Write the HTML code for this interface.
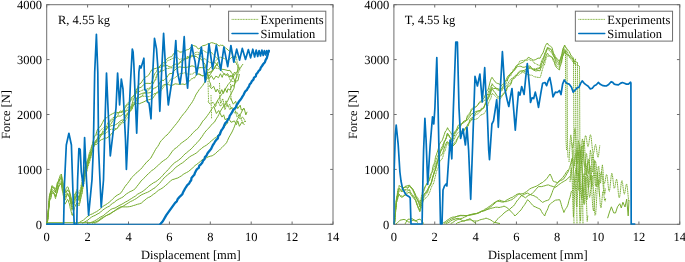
<!DOCTYPE html>
<html><head><meta charset="utf-8"><style>
html,body{margin:0;padding:0;background:#fff;}
svg{display:block;}
text{font-family:"Liberation Serif", serif;font-size:12.50px;fill:#000;text-rendering:geometricPrecision;}
svg{will-change:transform;}
</style></head><body>
<svg width="685" height="262" viewBox="0 0 685 262">
<clipPath id="cL"><rect x="46.20" y="4.20" width="287.30" height="220.60"/></clipPath><g stroke="#6e6e6e" stroke-width="1" fill="none"><path d="M46.70 224.30 V221.50 M46.70 4.70 V7.50" /><path d="M87.60 224.30 V221.50 M87.60 4.70 V7.50" /><path d="M128.50 224.30 V221.50 M128.50 4.70 V7.50" /><path d="M169.40 224.30 V221.50 M169.40 4.70 V7.50" /><path d="M210.30 224.30 V221.50 M210.30 4.70 V7.50" /><path d="M251.20 224.30 V221.50 M251.20 4.70 V7.50" /><path d="M292.10 224.30 V221.50 M292.10 4.70 V7.50" /><path d="M333.00 224.30 V221.50 M333.00 4.70 V7.50" /><path d="M46.70 224.30 H49.50 M333.00 224.30 H330.20" /><path d="M46.70 169.40 H49.50 M333.00 169.40 H330.20" /><path d="M46.70 114.50 H49.50 M333.00 114.50 H330.20" /><path d="M46.70 59.60 H49.50 M333.00 59.60 H330.20" /><path d="M46.70 4.70 H49.50 M333.00 4.70 H330.20" /></g><rect x="46.70" y="4.70" width="286.30" height="219.60" fill="none" stroke="#6e6e6e" stroke-width="1"/><g clip-path="url(#cL)"><path d="M46.7 224.0 L47.1 222.7 L47.5 221.9 L47.7 219.3 L47.8 217.3 L48.0 214.5 L48.2 212.0 L48.3 209.8 L48.5 208.8 L48.7 207.1 L48.8 204.8 L49.0 202.9 L49.2 200.2 L49.3 196.8 L49.5 196.0 L50.0 194.4 L50.5 192.8 L50.9 190.6 L51.4 188.5 L51.9 185.6 L53.5 186.9 L54.5 189.1 L55.5 191.0 L55.8 190.9 L56.1 189.8 L56.4 187.8 L56.8 185.5 L57.1 183.4 L57.4 182.5 L57.7 182.2 L58.0 182.3 L58.6 180.2 L59.1 178.4 L59.7 177.1 L60.3 175.1 L60.8 174.6 L61.4 174.0 L61.7 176.0 L62.0 178.3 L62.4 179.9 L62.7 180.4 L63.0 182.2 L63.5 184.7 L64.0 187.0 L64.4 189.9 L64.9 192.1 L65.6 190.2 L66.2 188.4 L67.5 186.7 L68.2 187.4 L68.8 189.8 L69.5 191.1 L69.9 193.3 L70.3 194.2 L70.8 196.4 L71.2 197.6 L71.6 200.3 L72.0 203.9 L72.8 202.5 L73.7 199.8 L74.5 197.1 L75.2 194.6 L76.0 192.8 L76.7 192.0 L77.3 193.7 L77.9 195.6 L78.5 197.2 L79.1 197.7 L79.6 195.6 L80.1 193.6 L80.5 192.1 L81.0 190.4 L81.5 188.6 L82.0 186.5 L82.4 183.4 L82.8 181.6 L83.1 179.1 L83.5 177.6 L83.9 176.1 L84.2 175.0 L84.6 172.9 L85.0 170.0 L85.4 168.8 L85.8 167.3 L86.1 166.2 L86.5 166.1 L86.9 165.7 L87.2 163.9 L87.6 162.1 L88.0 159.7 L88.6 157.9 L89.2 156.2 L89.8 154.7 L90.4 152.9 L91.0 150.6 L91.3 148.7 L91.6 146.9 L91.9 145.3 L92.2 144.9 L92.5 145.1 L92.8 143.6 L93.2 141.8 L93.5 139.9 L93.8 138.7 L94.1 136.9 L94.4 136.3 L94.7 135.8 L95.4 135.3 L96.0 134.4 L96.7 131.8 L97.3 129.9 L98.0 128.6 L98.7 128.0 L99.3 127.5 L100.0 127.0 L101.3 125.0 L102.7 122.3 L104.0 119.7 L105.3 118.4 L106.7 117.8 L108.0 116.4 L109.4 115.7 L110.7 114.7 L112.6 113.7 L114.5 112.7 L116.4 112.3 L118.3 112.6 L120.2 112.2 L122.1 111.9 L124.0 110.6 L124.8 108.3 L125.5 107.2 L126.2 106.0 L127.0 105.6 L127.8 104.3 L128.5 104.5 L129.2 102.8 L130.0 101.2 L130.7 99.4 L131.5 97.4 L132.2 97.2 L133.0 96.1 L133.7 95.7 L134.4 94.5 L135.2 91.8 L135.9 90.3 L136.7 88.8 L137.4 88.4 L138.4 88.4 L139.3 87.8 L141.2 87.2 L143.1 85.3 L145.1 83.5 L147.0 83.3 L148.9 83.4 L150.8 83.6 L151.6 82.1 L152.4 80.3 L153.3 77.8 L154.1 75.1 L154.9 73.5 L155.7 72.6 L156.6 71.5 L157.4 69.5 L158.2 67.7 L160.1 66.0 L161.1 64.6 L162.0 63.7 L162.9 62.7 L163.9 62.9 L164.9 61.8 L165.8 60.4 L166.8 59.2 L167.7 58.1 L168.7 57.7 L169.6 57.3 L170.6 56.8 L171.6 56.7 L172.5 55.4 L173.5 53.9 L175.4 51.7 L177.3 50.8 L178.6 51.1 L179.8 52.1 L181.1 52.1 L182.4 51.7 L183.6 51.2 L184.9 50.9 L186.2 50.1 L187.4 49.7 L188.7 49.4 L190.0 48.2 L191.2 47.1 L192.5 45.4 L193.8 45.6 L195.1 46.1 L196.3 46.4 L197.6 48.5 L198.9 48.9 L200.2 47.8 L201.5 46.8 L202.7 45.7 L204.0 45.5 L205.3 45.2 L206.5 44.6 L207.8 43.9 L209.7 43.4 L211.6 42.6 L213.5 43.1 L215.4 43.8 L216.7 43.8 L217.9 45.2 L219.2 46.0 L220.5 45.1 L221.7 45.4 L223.0 45.3 L224.3 46.9 L225.6 48.2 L226.8 48.8 L228.1 50.1 L229.4 51.2 L230.7 50.9 L231.6 52.6 L232.6 55.2 L233.6 57.8 L234.5 60.7 L235.4 62.1 L236.4 63.3 L237.0 65.1 L237.7 65.7 L238.3 68.8" fill="none" stroke="#77AC30" stroke-width="1.00" stroke-linejoin="round" opacity="1.00"/><path d="M46.7 224.0 L47.1 221.9 L47.5 221.5 L47.7 219.5 L47.9 217.6 L48.0 215.0 L48.2 211.7 L48.4 209.5 L48.6 207.7 L48.8 206.4 L49.0 204.2 L49.1 202.4 L49.3 199.5 L49.5 197.5 L50.0 195.0 L50.5 192.3 L50.9 191.8 L51.4 190.3 L51.9 187.8 L53.5 187.4 L54.5 187.7 L55.5 189.0 L56.1 187.6 L56.8 185.7 L57.4 184.4 L58.0 182.4 L59.1 180.1 L60.3 178.3 L61.4 176.3 L61.7 179.1 L62.0 181.6 L62.4 184.5 L62.7 186.5 L63.0 188.3 L63.5 189.6 L64.0 191.2 L64.4 194.5 L64.9 197.4 L66.2 196.3 L67.5 194.7 L68.2 194.9 L68.8 195.2 L69.5 196.1 L69.9 198.2 L70.3 201.7 L70.8 203.9 L71.2 206.5 L71.6 207.5 L72.0 209.4 L72.4 207.8 L72.8 205.9 L73.2 205.7 L73.7 205.9 L74.1 204.2 L74.5 203.0 L75.2 199.5 L76.0 196.6 L76.7 195.3 L77.3 197.2 L77.9 198.3 L79.1 200.2 L79.3 198.7 L79.6 197.5 L79.8 195.8 L80.1 194.2 L80.3 193.8 L80.5 193.1 L80.8 191.9 L81.0 190.9 L81.3 188.3 L81.5 187.3 L81.8 186.2 L82.0 185.5 L82.4 184.5 L82.8 181.7 L83.1 179.5 L83.5 176.1 L83.9 173.9 L84.2 171.9 L84.6 170.5 L85.0 169.7 L85.4 168.3 L85.8 165.9 L86.1 164.6 L86.5 162.3 L86.9 161.6 L87.2 161.6 L87.6 160.7 L88.0 158.8 L88.6 157.1 L89.2 153.5 L89.8 151.1 L90.4 150.0 L91.0 148.2 L91.6 146.8 L92.2 144.6 L92.8 142.1 L93.5 140.1 L94.1 137.6 L94.7 136.5 L96.0 135.3 L97.3 134.4 L98.7 133.5 L100.0 130.9 L101.3 129.4 L102.7 128.5 L104.0 127.1 L105.3 126.7 L106.7 127.0 L108.0 125.6 L109.4 122.9 L110.7 120.7 L112.4 119.7 L114.0 118.8 L115.7 117.0 L116.5 117.5 L117.3 116.5 L118.2 114.7 L119.0 112.8 L119.8 111.3 L120.7 110.7 L121.5 111.6 L122.3 110.4 L124.0 109.1 L124.8 107.1 L125.5 106.0 L127.0 103.8 L128.5 102.2 L130.0 101.4 L131.1 100.9 L132.2 98.5 L133.4 96.7 L134.5 95.0 L135.6 93.7 L136.8 92.6 L137.9 91.7 L139.0 91.6 L141.0 90.9 L142.9 90.0 L144.9 89.5 L146.9 89.0 L148.8 88.3 L150.8 88.2 L151.4 87.8 L152.0 86.7 L152.7 84.4 L153.3 82.8 L153.9 82.0 L154.5 81.3 L155.1 80.4 L155.7 79.7 L156.3 78.2 L157.0 75.8 L157.6 73.8 L158.2 72.3 L158.9 72.7 L159.6 72.1 L160.2 71.8 L160.9 69.5 L161.6 68.5 L162.3 66.6 L163.6 64.7 L165.0 62.9 L166.3 62.7 L167.7 60.5 L169.6 60.0 L171.5 59.0 L173.5 58.1 L175.4 57.4 L177.3 57.5 L178.5 58.6 L179.7 59.6 L180.9 59.0 L182.1 58.9 L184.4 58.6 L186.8 58.1 L188.0 57.5 L189.2 58.1 L190.4 57.9 L191.6 56.6 L192.7 55.2 L193.9 53.5 L195.1 52.7 L196.3 52.3 L197.5 52.1 L198.7 52.8 L199.9 52.8 L201.1 51.8 L202.3 50.9 L203.5 50.4 L204.7 51.4 L205.9 52.1 L207.1 52.7 L208.3 53.3 L209.5 52.3 L210.7 52.9 L211.8 52.6 L213.0 54.3 L214.2 55.5 L215.4 56.3 L216.2 57.7 L216.9 58.0 L217.7 58.6 L218.5 59.9 L219.2 60.7 L220.0 62.3" fill="none" stroke="#77AC30" stroke-width="1.00" stroke-linejoin="round" stroke-dasharray="1.2 0.5" opacity="1.00"/><path d="M46.7 224.0 L47.1 222.2 L47.5 221.4 L47.7 219.4 L47.9 217.2 L48.0 215.0 L48.2 212.2 L48.4 210.5 L48.6 208.7 L48.8 207.3 L49.0 205.8 L49.1 203.9 L49.3 200.7 L49.5 198.4 L50.1 195.5 L50.7 194.5 L51.3 192.1 L51.9 191.4 L53.5 192.2 L54.0 193.6 L54.5 193.8 L55.0 194.8 L55.5 196.9 L56.1 194.6 L56.8 193.1 L57.4 191.9 L58.0 188.6 L59.1 185.5 L60.3 184.3 L61.4 182.5 L61.7 184.3 L62.0 187.1 L62.4 188.6 L62.7 190.2 L63.0 191.7 L63.5 192.9 L64.0 195.7 L64.4 197.6 L64.9 200.1 L65.6 199.5 L66.2 197.2 L66.8 195.2 L67.5 193.9 L68.5 195.3 L69.5 197.0 L69.9 198.9 L70.3 201.4 L70.8 202.9 L71.2 204.0 L71.6 205.3 L72.0 207.2 L72.4 206.6 L72.8 206.2 L73.2 204.7 L73.7 202.1 L74.1 200.3 L74.5 199.0 L75.2 197.4 L76.0 196.3 L76.7 194.3 L77.3 194.9 L77.9 196.3 L78.5 196.5 L79.1 197.6 L79.6 195.6 L80.1 194.4 L80.5 192.7 L81.0 190.9 L81.5 187.5 L82.0 185.2 L82.4 182.7 L82.8 181.9 L83.1 180.0 L83.5 178.8 L83.9 176.9 L84.2 174.7 L84.6 171.5 L85.0 169.9 L85.8 168.1 L86.5 167.0 L87.2 165.8 L88.0 164.2 L88.6 161.3 L89.2 159.4 L89.8 156.6 L90.4 156.2 L91.0 154.5 L91.7 152.8 L92.5 151.3 L93.2 148.9 L94.0 145.2 L94.7 143.3 L96.0 142.8 L97.3 141.3 L98.7 139.8 L100.0 137.4 L101.5 135.0 L102.3 134.1 L103.1 133.4 L103.8 132.9 L104.6 132.0 L105.3 130.9 L106.1 130.0 L106.9 128.8 L107.6 127.2 L108.4 125.8 L109.2 124.8 L109.9 124.9 L110.7 124.2 L111.5 123.2 L112.4 121.2 L114.0 119.6 L115.7 117.9 L117.3 116.3 L119.0 116.0 L120.7 116.1 L122.3 114.4 L124.0 113.7 L125.5 111.5 L127.0 110.5 L128.5 109.9 L130.0 108.9 L130.7 107.6 L131.4 105.6 L132.1 103.6 L132.8 101.2 L133.5 98.6 L134.2 98.1 L134.8 96.4 L135.5 94.6 L136.2 92.6 L136.9 90.5 L137.6 87.4 L138.3 85.3 L139.0 84.1 L140.0 83.9 L140.9 83.2 L141.9 81.6 L142.8 80.1 L143.8 78.9 L144.8 77.7 L145.7 77.0 L146.7 76.5 L147.6 76.0 L148.6 75.2 L150.2 72.5 L151.8 69.7 L153.4 69.1 L155.0 68.6 L156.6 68.1 L158.2 67.7 L160.1 67.3 L162.0 66.2 L163.9 66.0 L165.8 65.5 L167.7 65.7 L168.9 66.7 L170.1 66.9 L171.3 67.1 L172.5 66.0 L173.7 64.8 L174.9 64.5 L176.1 63.9 L177.3 64.4 L178.5 64.3 L179.7 63.0 L180.9 61.3 L182.1 60.2 L183.2 59.3 L184.4 59.5 L185.6 59.0 L186.8 58.6 L188.0 58.0 L189.2 57.1 L190.4 56.3 L191.6 55.8 L193.9 56.4 L196.3 56.5 L197.4 57.4 L198.5 58.4 L199.6 58.6 L200.7 58.7 L201.7 60.3 L202.8 61.4 L203.9 62.9 L205.0 64.3 L205.5 66.8 L206.1 67.2 L206.6 69.2 L207.2 71.2 L207.7 73.9 L208.3 76.9 L208.8 79.0 L209.4 81.5 L209.9 82.4 L210.5 84.0 L211.0 86.6" fill="none" stroke="#77AC30" stroke-width="1.00" stroke-linejoin="round" opacity="1.00"/><path d="M46.7 224.0 L47.1 222.4 L47.5 220.4 L47.7 218.6 L47.9 216.5 L48.1 215.1 L48.3 213.2 L48.5 210.9 L48.7 208.6 L48.9 205.4 L49.1 203.9 L49.3 202.1 L49.5 200.9 L50.1 199.2 L50.7 197.4 L51.3 194.6 L51.9 191.5 L53.5 193.1 L54.5 195.5 L55.5 198.7 L55.8 197.5 L56.1 195.8 L56.4 193.9 L56.8 192.0 L57.1 191.1 L57.4 190.3 L57.7 189.2 L58.0 188.8 L58.6 186.7 L59.1 185.0 L59.7 183.1 L60.3 181.9 L60.8 181.3 L61.4 180.9 L61.7 182.8 L62.0 184.1 L62.4 186.0 L62.7 187.5 L63.0 189.8 L63.5 192.0 L64.0 194.4 L64.4 196.8 L64.9 197.6 L65.6 196.5 L66.2 194.7 L67.5 192.7 L68.2 194.5 L68.8 196.6 L69.5 197.6 L69.9 199.5 L70.3 201.0 L70.8 202.5 L71.2 204.5 L71.6 207.7 L72.0 210.2 L72.8 208.3 L73.7 205.8 L74.5 203.3 L75.2 200.9 L76.0 200.0 L76.7 199.3 L77.3 200.9 L77.9 202.8 L78.5 204.1 L79.1 203.8 L79.6 201.5 L80.1 200.4 L80.5 199.1 L81.0 197.5 L81.5 195.0 L82.0 192.8 L82.4 190.6 L82.8 188.3 L83.1 186.4 L83.5 184.5 L83.9 183.9 L84.2 181.5 L84.6 179.3 L85.0 176.0 L85.4 175.4 L85.8 174.0 L86.1 173.7 L86.5 172.6 L86.9 171.9 L87.2 170.2 L87.6 168.3 L88.0 166.4 L88.6 164.9 L89.2 163.0 L89.8 161.4 L90.4 159.1 L91.0 157.0 L91.4 154.4 L91.7 152.8 L92.1 151.6 L92.5 151.7 L92.8 150.9 L93.2 149.7 L93.6 147.3 L94.0 145.8 L94.3 144.0 L94.7 142.7 L95.4 142.3 L96.0 143.0 L96.7 141.0 L97.3 139.7 L98.7 137.0 L100.0 135.1 L101.0 134.1 L102.0 134.4 L104.0 133.7 L106.0 133.3 L108.0 131.2 L109.6 130.0 L111.2 129.1 L112.8 129.3 L114.4 128.8 L116.0 128.7 L117.6 128.1 L119.2 126.2 L120.8 124.2 L122.4 123.1 L124.0 122.4 L125.2 121.1 L126.4 119.1 L127.7 117.6 L128.3 116.1 L128.9 113.7 L129.5 112.6 L130.1 111.6 L130.7 111.1 L131.3 110.6 L131.9 109.4 L132.5 107.9 L133.1 105.7 L133.7 104.7 L134.4 103.6 L135.0 104.0 L135.6 103.3 L136.2 101.6 L137.4 99.8 L139.3 97.3 L141.2 96.4 L143.1 96.2 L145.1 96.2 L147.0 96.6 L148.9 96.7 L150.8 95.8 L152.5 95.3 L154.1 93.5 L155.8 93.8 L157.4 92.9 L159.1 92.4 L160.8 91.2 L162.4 88.7 L164.1 86.4 L165.0 85.2 L165.9 84.5 L166.8 84.5 L167.7 83.9 L168.7 82.0 L169.6 81.2 L170.6 79.2 L171.5 78.9 L172.5 78.0 L173.5 78.6 L175.4 77.4 L177.3 75.8 L179.2 74.2 L181.1 73.2 L183.0 73.3 L184.9 72.7 L186.8 73.8 L188.7 74.2 L190.6 74.2 L192.5 74.0 L194.4 72.4 L196.3 72.3 L198.2 73.5 L200.1 75.1 L202.1 75.5 L204.0 76.0 L205.9 74.8 L206.9 73.5 L207.8 72.5 L208.8 72.4 L209.7 72.4 L211.6 70.6 L213.5 69.2 L215.4 68.0 L217.3 68.3 L219.2 68.8 L221.2 70.1 L223.1 73.0 L224.0 73.5 L225.0 74.0 L225.9 74.3 L226.9 74.5 L227.9 76.1 L228.8 76.8 L229.8 79.1 L230.7 80.6 L231.6 81.5 L232.6 81.5 L234.5 81.8 L235.3 79.8 L236.1 78.5 L236.9 77.0 L237.6 75.0 L238.4 73.2 L239.2 69.7 L240.0 67.9" fill="none" stroke="#77AC30" stroke-width="1.00" stroke-linejoin="round" stroke-dasharray="1.2 0.5" opacity="1.00"/><path d="M46.7 224.0 L47.1 223.5 L47.5 221.4 L47.7 218.9 L47.9 215.7 L48.2 213.8 L48.4 212.9 L48.6 211.3 L48.8 208.8 L49.1 206.6 L49.3 203.4 L49.5 201.4 L49.9 199.6 L50.3 199.1 L50.7 199.0 L51.1 197.0 L51.5 194.8 L51.9 193.3 L53.5 192.9 L54.5 194.2 L55.5 197.2 L56.1 195.8 L56.8 193.1 L57.4 191.0 L58.0 187.6 L59.1 185.9 L60.3 184.4 L61.4 183.7 L61.7 187.3 L62.0 188.8 L62.4 191.0 L62.7 191.8 L63.0 193.8 L63.5 196.6 L64.0 199.4 L64.4 201.5 L64.9 204.2 L66.2 202.1 L67.5 199.4 L68.2 200.1 L68.8 202.5 L69.5 204.0 L69.9 206.3 L70.3 208.6 L70.8 209.8 L71.2 211.7 L71.6 213.2 L72.0 215.1 L72.4 215.4 L72.8 214.0 L73.2 212.9 L73.7 210.8 L74.1 209.7 L74.5 207.5 L75.2 206.2 L76.0 204.3 L76.7 203.0 L77.3 204.3 L77.9 204.5 L79.1 205.8 L79.3 204.4 L79.6 203.5 L79.8 203.3 L80.1 202.0 L80.3 201.2 L80.5 199.1 L80.8 198.0 L81.0 196.6 L81.3 194.8 L81.5 194.5 L81.8 194.4 L82.0 193.0 L82.4 189.6 L82.8 187.5 L83.1 185.4 L83.5 183.0 L83.9 181.5 L84.2 180.1 L84.6 178.3 L85.0 174.8 L85.4 172.9 L85.8 171.3 L86.1 171.0 L86.5 170.3 L86.9 169.3 L87.2 168.1 L87.6 165.9 L88.0 164.3 L88.6 162.7 L89.2 160.6 L89.8 158.9 L90.4 158.1 L91.0 155.3 L91.7 152.5 L92.5 149.5 L93.2 147.4 L94.0 145.9 L94.7 144.7 L96.5 144.5 L98.2 142.4 L100.0 140.6 L101.6 139.6 L103.2 139.0 L104.8 137.9 L106.4 138.2 L108.0 137.1 L109.6 136.0 L111.2 134.1 L112.8 132.2 L114.4 130.1 L115.2 129.4 L116.0 129.6 L116.8 128.5 L117.6 127.4 L118.4 126.4 L119.2 124.3 L120.0 123.4 L120.8 122.4 L121.6 122.8 L122.4 121.9 L123.2 120.4 L124.0 119.6 L125.2 116.5 L126.4 114.3 L127.7 112.9 L128.9 111.8 L130.1 110.8 L131.3 109.7 L132.5 107.0 L133.7 105.2 L135.0 104.1 L136.2 103.5 L137.4 103.0 L139.3 103.8 L141.2 102.9 L143.1 102.2 L145.1 101.2 L147.0 100.1 L148.9 99.8 L150.8 99.2 L152.5 98.7 L154.1 96.2 L155.0 95.2 L155.8 93.1 L156.6 92.6 L157.4 92.1 L158.3 91.6 L159.1 91.8 L159.9 90.4 L160.8 88.7 L162.4 85.9 L164.1 84.7 L166.3 84.2 L168.5 84.6 L170.7 85.4 L172.9 85.1 L175.1 83.8 L177.3 84.1 L179.2 84.3 L181.1 84.2 L183.0 84.0 L184.9 84.6 L186.8 83.0 L188.7 81.8 L190.6 79.7 L191.6 78.8 L192.5 78.7 L193.4 77.7 L194.4 78.1 L195.4 76.5 L196.3 74.8 L197.5 74.2 L198.7 74.2 L199.9 74.0 L201.1 75.1 L202.3 76.0 L203.5 75.5 L204.7 75.1 L205.9 74.6 L207.4 73.8 L209.0 72.2 L210.5 72.2 L212.1 71.3 L213.6 69.3 L214.7 68.3 L215.8 65.5 L216.9 65.0 L218.0 63.8" fill="none" stroke="#77AC30" stroke-width="1.00" stroke-linejoin="round" opacity="1.00"/><path d="M46.7 224.0 L47.1 221.2 L47.5 220.5 L47.7 218.4 L47.8 217.9 L48.0 215.1 L48.2 213.6 L48.3 210.6 L48.5 208.2 L48.7 206.3 L48.8 203.9 L49.0 202.7 L49.2 201.3 L49.3 198.4 L49.5 195.6 L50.0 192.9 L50.5 191.6 L50.9 190.1 L51.4 188.7 L51.9 186.4 L53.5 188.5 L54.0 188.7 L54.5 189.1 L55.0 190.6 L55.5 192.4 L56.1 190.6 L56.8 189.3 L57.4 186.6 L58.0 184.0 L59.1 181.9 L60.3 179.6 L61.4 177.8 L61.7 181.0 L62.0 183.4 L62.4 184.4 L62.7 186.1 L63.0 186.4 L63.5 188.5 L64.0 191.0 L64.4 194.5 L64.9 196.3 L65.6 194.7 L66.2 192.2 L66.8 190.7 L67.5 189.9 L68.5 190.7 L69.5 192.5 L69.9 194.5 L70.3 196.4 L70.8 197.9 L71.2 198.9 L71.6 200.7 L72.0 203.3 L72.4 202.3 L72.8 202.0 L73.2 199.7 L73.7 197.5 L74.1 195.8 L74.5 195.2 L75.2 193.1 L76.0 192.3 L76.7 189.7 L77.3 190.7 L77.9 190.7 L78.5 192.4 L79.1 193.7 L79.6 191.8 L80.1 190.0 L80.5 188.5 L81.0 185.9 L81.5 183.6 L82.0 181.1 L82.4 179.1 L82.8 177.4 L83.1 175.9 L83.5 175.2 L83.9 172.9 L84.2 169.4 L84.6 167.5 L85.0 165.7 L85.8 165.0 L86.5 162.7 L87.2 160.9 L88.0 159.5 L88.6 156.7 L89.2 154.3 L89.8 153.1 L90.4 151.8 L91.0 150.8 L91.9 148.6 L92.8 146.1 L93.8 143.4 L94.7 141.4 L96.0 140.3 L97.3 139.0 L98.7 137.8 L100.0 136.3 L101.3 134.1 L102.7 131.3 L103.3 129.6 L104.0 129.3 L104.7 128.9 L105.3 128.7 L106.0 127.8 L106.7 125.3 L107.4 124.2 L108.0 122.4 L108.7 121.6 L109.4 121.4 L110.7 119.7 L112.4 118.3 L114.0 117.2 L115.7 114.4 L117.3 113.6 L119.0 112.7 L120.7 112.2 L122.3 112.3 L124.0 112.3 L125.3 111.0 L126.7 108.9 L128.0 107.2 L129.4 106.6 L130.7 106.9 L132.0 106.3 L133.4 104.4 L134.7 103.3 L136.1 100.7 L137.4 98.4 L138.4 98.5 L139.3 97.6 L140.3 97.4 L141.2 96.9 L142.2 96.0 L143.1 94.1 L144.1 92.8 L145.1 92.5 L146.0 91.8 L147.0 91.9 L147.9 90.3 L148.9 89.8 L149.8 87.6 L150.8 87.1 L151.7 85.5 L152.6 84.1 L153.6 82.8 L154.5 81.1 L155.4 79.0 L156.3 76.2 L157.2 74.1 L158.2 73.2 L159.1 72.3 L160.0 71.0 L162.0 71.1 L164.0 70.2 L166.0 68.7 L168.0 68.5 L170.0 68.1 L172.0 67.7 L174.0 68.1 L176.0 67.1 L177.0 65.5 L178.0 63.8 L179.0 62.6 L180.0 61.9 L181.0 61.9 L182.0 62.5 L183.0 60.7 L184.0 60.3 L185.0 58.5 L186.0 57.5 L187.0 56.3 L188.0 56.9 L190.0 55.9 L192.0 56.0 L194.0 55.4 L196.0 54.6 L198.0 54.4 L200.0 55.5 L201.0 56.3 L202.0 57.6 L203.0 59.3 L204.0 58.6 L205.0 59.0 L206.0 59.4 L208.0 61.5 L210.0 62.6 L212.0 62.9 L214.0 62.1 L216.0 60.5 L218.0 58.6 L220.0 57.0 L222.0 57.6 L224.0 58.4 L226.0 59.4 L228.0 60.7 L230.0 59.1 L232.0 56.9 L234.0 56.9 L236.0 55.9 L236.7 59.2 L237.3 62.7 L238.0 64.1 L238.7 66.4 L239.3 68.3 L240.0 70.6" fill="none" stroke="#77AC30" stroke-width="1.00" stroke-linejoin="round" stroke-dasharray="1.2 0.5" opacity="1.00"/><path d="M46.7 224.0 L47.1 221.7 L47.5 220.3 L47.7 218.8 L47.9 217.3 L48.0 215.6 L48.2 212.5 L48.4 210.1 L48.6 206.8 L48.8 205.2 L49.0 203.8 L49.1 202.1 L49.3 200.7 L49.5 197.6 L50.0 195.5 L50.5 193.5 L50.9 191.2 L51.4 190.8 L51.9 189.5 L53.5 190.6 L54.5 191.3 L55.5 192.7 L55.8 191.2 L56.1 189.8 L56.4 189.1 L56.8 188.6 L57.1 187.4 L57.4 186.2 L57.7 183.7 L58.0 182.2 L58.6 181.4 L59.1 181.2 L59.7 179.9 L60.3 178.5 L60.8 177.9 L61.4 175.8 L61.7 177.3 L62.0 179.1 L62.4 181.4 L62.7 183.9 L63.0 186.0 L63.5 187.6 L64.0 188.4 L64.4 190.7 L64.9 192.9 L65.6 191.8 L66.2 192.3 L67.5 190.1 L68.2 191.2 L68.8 191.1 L69.5 192.2 L69.9 194.2 L70.3 197.2 L70.8 199.8 L71.2 201.4 L71.6 203.2 L72.0 204.7 L72.8 202.5 L73.7 200.8 L74.5 199.7 L75.2 198.7 L76.0 196.8 L76.7 194.5 L77.3 195.5 L77.9 197.1 L78.5 198.7 L79.1 200.7 L79.6 199.5 L80.1 196.8 L80.5 194.1 L81.0 191.3 L81.5 189.0 L82.0 187.1 L82.4 186.5 L82.8 185.5 L83.1 182.7 L83.5 180.8 L83.9 178.4 L84.2 175.9 L84.6 173.5 L85.0 172.7 L85.4 171.7 L85.8 170.5 L86.1 168.6 L86.5 167.3 L86.9 166.2 L87.2 164.4 L87.6 164.0 L88.0 163.6 L88.6 161.1 L89.2 158.8 L89.8 156.2 L90.4 153.4 L91.0 151.0 L91.5 150.6 L91.9 150.2 L92.4 149.5 L92.8 148.1 L93.3 145.7 L93.8 143.8 L94.2 143.1 L94.7 142.8 L95.4 142.0 L96.0 141.0 L96.7 139.7 L97.3 138.5 L98.7 135.6 L100.0 134.8 L101.5 133.8 L103.1 132.3 L104.6 130.6 L106.1 128.7 L107.6 127.5 L109.2 126.4 L110.7 126.0 L112.4 125.4 L114.0 125.7 L115.7 124.6 L117.3 123.7 L119.0 122.2 L120.7 120.7 L122.3 119.9 L124.0 120.3 L125.2 118.2 L126.4 116.5 L127.7 113.9 L128.3 112.1 L128.9 110.9 L129.5 110.1 L130.1 109.8 L130.7 108.8 L131.3 108.2 L131.9 106.6 L132.5 104.9 L133.1 103.1 L133.7 102.6 L134.4 102.6 L135.0 102.0 L136.2 99.1 L137.4 96.8 L139.3 94.5 L141.2 93.8 L143.1 93.0 L145.1 93.1 L147.0 93.0 L148.9 92.9 L150.8 92.4 L152.1 90.5 L153.4 88.6 L154.7 88.0 L156.1 87.6 L157.4 86.1 L158.7 85.4 L160.0 82.1 L161.0 81.4 L162.0 80.0 L163.0 80.6 L164.0 80.2 L165.0 79.2 L166.0 78.5 L167.0 77.2 L168.0 75.6 L169.0 74.1 L170.0 73.5 L171.0 73.6 L172.0 73.4 L173.0 72.1 L174.0 70.8 L176.0 69.0 L178.0 67.4 L180.0 66.8 L182.0 67.4 L184.0 67.3 L186.0 67.5 L188.0 67.0 L190.0 66.5 L192.0 65.8 L194.0 66.4 L196.0 68.1 L198.0 68.1 L200.0 67.6 L201.6 67.6 L203.2 67.8 L204.8 67.4 L206.4 68.4 L208.0 70.1 L208.9 69.9 L209.8 68.1 L211.5 66.8 L213.2 63.8 L215.0 62.3 L216.8 64.5 L218.5 66.6 L219.4 67.8 L220.2 68.5 L221.1 68.8 L222.0 69.3 L224.0 69.5 L226.0 70.0 L228.0 70.6 L230.0 70.3 L230.5 71.7 L231.0 71.4 L231.5 72.8 L232.0 73.3 L232.5 74.6 L233.0 76.7 L234.0 79.0 L235.0 81.5 L236.0 82.6" fill="none" stroke="#77AC30" stroke-width="1.00" stroke-linejoin="round" opacity="1.00"/><path d="M78.2 223.4 L79.9 222.1 L81.7 221.0 L83.4 220.1 L85.2 218.5 L86.9 217.0 L88.7 215.7 L90.4 214.6 L92.5 213.8 L94.5 212.6 L96.6 211.6 L98.6 210.2 L100.7 208.5 L102.4 206.9 L104.1 205.6 L105.8 204.7 L107.5 203.5 L109.2 202.3 L110.9 200.8 L112.6 199.1 L114.3 197.5 L116.0 196.0 L117.7 194.9 L119.4 194.0 L121.1 192.7 L122.4 190.7 L123.7 188.6 L124.9 186.7 L126.2 185.0 L127.5 183.5 L128.8 181.7 L130.0 180.1 L131.3 178.0 L132.9 176.5 L134.4 174.9 L136.0 173.2 L137.6 171.9 L139.1 170.6 L140.7 169.2 L142.2 167.6 L143.6 165.6 L145.1 164.0 L146.5 162.2 L148.0 161.0 L149.4 159.4 L150.9 158.0 L152.0 155.9 L153.2 153.8 L154.3 151.8 L155.4 149.7 L156.6 147.9 L157.7 146.5 L158.9 144.6 L160.0 142.3 L161.4 140.5 L162.8 139.1 L164.2 137.4 L165.6 136.1 L167.0 135.0 L168.4 133.5 L169.8 131.8 L171.2 130.1 L172.6 128.3 L173.9 126.7 L175.1 125.2 L176.4 123.7 L177.6 122.1 L178.9 120.3 L180.2 118.4 L181.4 116.6 L182.7 115.0 L183.9 113.5 L185.2 112.1 L186.5 110.3 L187.7 108.6 L189.0 106.6 L190.2 104.9 L191.5 103.2 L192.6 101.4 L193.6 99.6 L194.6 97.6 L195.7 95.1 L196.9 93.1 L198.1 91.4 L199.2 89.6 L200.4 88.3 L201.6 86.7 L202.8 85.3 L204.0 83.3 L205.1 81.4 L206.3 79.8 L207.5 78.2 L208.7 76.4 L209.9 74.9 L211.2 72.9 L212.4 71.2 L213.6 69.0 L214.7 67.2 L215.8 65.3 L216.9 64.0 L218.0 62.0" fill="none" stroke="#77AC30" stroke-width="1.00" stroke-linejoin="round" opacity="1.00"/><path d="M82.3 223.4 L84.1 222.3 L86.0 221.3 L87.8 220.1 L89.7 218.5 L91.5 217.1 L93.3 216.1 L95.2 215.4 L97.0 214.2 L98.9 213.3 L100.7 212.0 L102.4 210.3 L104.1 209.1 L105.8 208.0 L107.5 207.0 L109.2 206.3 L110.9 204.7 L112.6 203.3 L114.4 202.3 L116.1 200.7 L117.9 199.6 L119.6 198.7 L121.4 197.8 L123.1 196.9 L124.9 195.2 L126.6 193.8 L128.4 192.7 L130.1 191.6 L131.9 190.9 L133.6 189.9 L135.4 188.5 L136.8 186.5 L138.2 184.8 L139.6 183.0 L140.9 181.1 L142.3 179.9 L143.7 178.4 L145.3 176.9 L146.9 175.1 L148.5 173.6 L150.2 172.1 L151.8 170.5 L153.4 169.6 L155.0 168.2 L156.7 166.6 L158.5 165.1 L160.2 163.3 L162.0 161.8 L163.7 160.5 L165.5 159.4 L167.2 158.2 L168.5 156.6 L169.8 154.9 L171.1 153.0 L172.4 151.2 L173.7 149.7 L175.0 148.6 L176.6 147.5 L178.1 146.3 L179.7 144.6 L181.2 143.2 L182.8 142.1 L184.4 140.9 L185.9 139.9 L187.5 138.6 L189.0 137.2 L190.5 135.7 L192.0 133.9 L193.5 132.4 L195.0 130.7 L196.5 129.6 L198.0 128.4 L199.2 126.6 L200.4 125.0 L201.6 123.0 L202.8 121.1 L204.0 119.7 L205.2 118.7 L206.4 116.9 L207.6 115.3 L208.8 113.6 L210.0 111.9 L211.1 110.1 L212.3 108.4 L213.4 107.0 L214.6 105.5 L215.7 103.6 L216.9 101.7 L218.0 99.8 L219.1 98.1 L220.3 96.3 L221.4 94.8 L222.5 93.3 L223.6 91.8 L224.8 89.9 L225.9 88.1 L227.1 86.2 L228.2 84.4 L229.4 83.1 L230.5 81.7 L231.7 79.6 L232.8 77.6 L234.0 75.7 L235.3 73.9 L236.6 72.3 L237.9 70.8 L239.2 69.3 L240.5 67.8 L241.8 65.6 L243.1 64.0" fill="none" stroke="#77AC30" stroke-width="1.00" stroke-linejoin="round" opacity="1.00"/><path d="M88.5 223.4 L90.5 222.7 L92.5 221.8 L94.6 220.9 L96.6 219.7 L98.4 218.5 L100.2 217.2 L102.0 216.4 L103.8 215.3 L105.5 213.7 L107.3 212.4 L109.1 210.9 L110.9 209.4 L112.9 208.5 L115.0 208.0 L117.0 206.8 L119.0 205.6 L121.1 204.6 L123.1 203.5 L125.2 202.2 L127.2 201.2 L129.2 199.9 L131.3 198.6 L133.3 197.3 L135.4 196.1 L137.4 194.3 L139.5 193.2 L141.5 192.1 L143.2 191.0 L144.9 189.7 L146.6 188.3 L148.3 186.6 L150.0 185.2 L151.7 184.1 L153.6 182.7 L155.4 181.9 L157.3 180.6 L159.1 179.0 L161.0 177.4 L162.5 175.7 L163.9 174.0 L165.4 172.4 L166.9 171.0 L168.4 169.4 L169.8 167.7 L171.3 166.0 L173.1 164.1 L174.8 162.6 L176.6 161.5 L178.3 160.4 L180.1 158.9 L181.8 157.4 L183.6 155.4 L185.1 153.8 L186.7 152.7 L188.2 151.3 L189.7 150.2 L191.2 148.9 L192.8 147.2 L194.3 145.5 L195.8 143.9 L197.1 142.7 L198.4 141.2 L199.6 139.8 L200.9 138.0 L202.2 136.4 L203.4 134.4 L204.7 132.5 L206.0 130.9 L207.3 129.6 L208.6 128.2 L209.9 126.8 L211.2 125.2 L212.8 123.4 L214.5 122.1 L215.6 120.0 L216.7 118.2 L217.8 116.5 L218.9 114.4 L220.0 112.0 L221.1 110.0 L222.3 108.1 L223.4 106.4 L224.6 105.3 L225.7 103.7 L226.9 102.2 L228.0 100.2 L229.0 97.8 L230.0 95.9 L231.0 94.0 L232.0 92.0 L233.0 90.1 L234.0 88.2 L234.4 85.8 L234.9 83.5 L235.3 81.1 L235.7 79.3 L236.2 77.5 L236.6 75.2 L237.0 73.3 L237.4 70.9 L237.9 68.5 L238.3 66.5" fill="none" stroke="#77AC30" stroke-width="1.00" stroke-linejoin="round" opacity="1.00"/><path d="M94.5 223.4 L96.3 222.4 L98.1 221.5 L100.0 220.0 L101.8 218.8 L103.6 217.5 L105.4 216.2 L107.3 214.9 L109.1 214.1 L110.9 213.1 L112.9 211.8 L115.0 210.6 L117.0 208.9 L119.1 207.6 L121.1 206.7 L123.1 206.9 L125.2 206.9 L127.2 206.9 L129.3 206.7 L131.3 206.3 L133.3 205.6 L135.4 205.0 L137.4 204.3 L139.5 203.8 L141.5 203.0 L143.2 201.4 L144.9 200.1 L146.6 198.6 L148.3 197.5 L150.0 196.9 L151.7 195.6 L153.4 194.3 L155.1 193.2 L156.8 191.7 L158.6 190.2 L160.3 189.3 L162.0 188.3 L163.7 187.1 L165.4 185.6 L167.1 184.2 L168.8 182.5 L170.5 181.0 L172.2 179.7 L174.1 179.2 L175.9 178.5 L177.8 178.0 L179.6 176.9 L181.5 175.8 L183.2 174.4 L184.9 173.4 L186.6 172.5 L188.3 171.6 L190.0 170.2 L191.7 168.9 L193.4 167.1 L195.1 165.5 L196.8 164.3 L198.6 162.9 L200.3 161.5 L202.0 159.9 L204.0 158.9 L206.1 158.0 L208.1 156.9 L210.2 156.2 L212.2 155.8 L213.8 154.7 L215.5 153.6 L217.1 151.8 L218.8 150.6 L220.4 149.0 L221.9 147.6 L223.4 146.1 L225.0 144.4 L226.5 142.8 L227.6 140.4 L228.7 137.9 L229.8 135.9 L230.9 134.0 L232.0 132.0 L232.9 130.1 L233.7 128.3 L234.6 126.1 L235.4 123.7 L236.3 121.7 L237.1 119.9 L238.0 118.1 L239.2 116.4 L240.4 114.4 L241.6 112.0 L242.8 109.6 L244.0 108.0" fill="none" stroke="#77AC30" stroke-width="1.00" stroke-linejoin="round" opacity="1.00"/><path d="M92.0 223.4 L93.8 222.4 L95.6 221.8 L97.4 221.0 L99.2 219.9 L101.0 218.4 L102.8 217.5 L104.6 216.4 L106.4 215.6 L108.2 214.8 L110.0 214.1 L111.9 212.7 L113.8 211.4 L115.6 210.3 L117.5 209.3 L119.4 208.4 L121.2 207.3 L123.1 206.2 L125.0 205.0 L126.9 203.8 L128.8 202.6 L130.6 201.5 L132.5 200.7 L134.4 199.6 L136.2 198.6 L138.1 197.2 L140.0 195.8 L141.9 194.6 L143.8 193.8 L145.6 193.0 L147.5 192.3 L149.4 191.3 L151.2 190.1 L153.1 188.8 L155.0 187.8 L156.5 186.1 L158.1 184.8 L159.6 183.4 L161.1 181.5 L162.7 179.6 L164.2 177.8 L165.8 176.4 L167.4 175.0 L169.0 173.6 L170.6 172.6 L172.2 171.0 L173.8 169.6 L175.4 167.6 L177.2 166.4 L178.9 165.2 L180.7 163.9 L182.4 162.9 L184.2 161.5 L185.9 160.0 L187.7 158.5 L189.4 157.1 L191.1 155.9 L192.8 155.1 L194.5 154.1 L196.2 153.1 L197.9 151.7 L199.6 150.0 L201.3 148.7 L203.0 147.2 L204.7 146.2 L206.4 145.2 L208.1 143.8 L209.7 142.5 L211.4 140.9 L213.0 139.6 L214.7 138.1 L216.3 137.4 L217.7 135.7 L219.2 133.9 L220.6 132.0 L222.0 129.9 L223.2 128.0 L224.4 126.5 L225.6 125.1 L226.8 124.0 L228.0 122.0" fill="none" stroke="#77AC30" stroke-width="1.00" stroke-linejoin="round" opacity="1.00"/><path d="M208.0 101.7 L210.3 104.2 L213.2 102.2 L215.6 106.7 L217.6 100.6 L220.4 106.3 L222.9 103.3 L224.9 109.7 L226.9 104.2 L229.9 109.6 L231.6 107.9 L234.6 113.0 L237.1 112.2 L240.0 119.1 L242.8 117.0 L245.7 122.0" fill="none" stroke="#77AC30" stroke-width="1.00" stroke-linejoin="round" stroke-dasharray="1.3 0.5" opacity="1.00"/><path d="M219.5 96.5 L220.7 103.5 L222.7 98.7 L224.6 106.6 L226.0 100.7 L227.9 106.6 L229.7 104.1 L230.8 109.0 L231.9 107.1 L233.3 110.9 L234.9 108.6 L236.9 116.9 L239.8 114.1 L242.8 123.3 L245.3 120.8" fill="none" stroke="#77AC30" stroke-width="1.00" stroke-linejoin="round" stroke-dasharray="1.3 0.5" opacity="1.00"/><path d="M230.5 97.7 L233.3 104.2 L235.7 101.3 L237.7 108.7 L240.2 105.2 L241.3 110.0 L244.3 108.6 L245.8 114.9 L247.1 111.8" fill="none" stroke="#77AC30" stroke-width="1.00" stroke-linejoin="round" opacity="1.00"/><path d="M205.0 74.4 L206.1 78.8 L207.8 74.3 L209.4 78.5 L211.3 75.6 L213.7 79.5 L215.9 76.1 L218.5 77.7 L220.4 73.7 L222.2 77.4 L223.5 73.6 L226.2 75.5 L227.5 73.5 L230.0 77.2 L230.9 75.1 L232.1 77.2 L234.6 72.0 L235.7 73.2" fill="none" stroke="#77AC30" stroke-width="1.00" stroke-linejoin="round" opacity="1.00"/><path d="M209.0 85.2 L211.5 88.7 L213.7 86.3 L215.9 92.0 L217.4 89.0 L219.9 94.0 L221.8 89.6 L223.4 93.5 L225.0 88.6 L227.0 92.5 L227.9 88.8 L230.0 90.1 L232.4 84.9 L233.6 86.3 L235.8 81.1 L238.0 80.7 L239.4 74.0" fill="none" stroke="#77AC30" stroke-width="1.00" stroke-linejoin="round" opacity="1.00"/><path d="M214.0 106.8 L216.4 113.5 L218.7 110.5 L222.0 117.1 L223.7 114.8 L225.0 119.6 L228.3 118.2 L231.1 122.3 L234.4 120.9 L236.4 124.7 L237.8 121.0 L239.4 126.3 L241.8 122.2 L244.5 124.9" fill="none" stroke="#77AC30" stroke-width="1.00" stroke-linejoin="round" opacity="1.00"/><path d="M208.0 81.0 L208.6 103.0" fill="none" stroke="#77AC30" stroke-width="1.00" stroke-linejoin="round" stroke-dasharray="1 0.7" opacity="1.00"/><path d="M219.5 83.0 L220.1 100.0" fill="none" stroke="#77AC30" stroke-width="1.00" stroke-linejoin="round" stroke-dasharray="1 0.7" opacity="1.00"/><path d="M230.5 84.0 L231.1 100.0" fill="none" stroke="#77AC30" stroke-width="1.00" stroke-linejoin="round" stroke-dasharray="1 0.7" opacity="1.00"/><path d="M211.0 95.0 L211.6 119.0" fill="none" stroke="#77AC30" stroke-width="1.00" stroke-linejoin="round" stroke-dasharray="1 0.7" opacity="1.00"/><path d="M46.7 222.6 L95.0 222.6" fill="none" stroke="#77AC30" stroke-width="0.90" stroke-linejoin="round" opacity="1.00"/><path d="M46.7 224.3 L160.2 224.3" fill="none" stroke="#0072BD" stroke-width="1.20" stroke-linejoin="round" stroke-linecap="round"/><path d="M46.7 224.2 L63.6 224.2 L64.4 185.0 L66.3 145.0 L68.9 133.3 L71.4 145.0 L73.2 200.0 L74.2 224.2 L76.2 224.2 L76.8 224.2 L77.6 180.0 L78.9 148.5 L80.2 149.5 L81.3 172.0 L83.2 186.0 L84.6 137.6 L86.5 180.0 L88.6 215.2 L92.0 179.7 L93.3 150.0 L94.7 72.0 L96.4 34.4 L97.8 72.0 L98.6 150.0 L101.2 207.2 L103.5 180.0 L105.3 112.0 L106.5 73.0 L108.2 112.0 L110.3 156.0 L116.0 108.0 L117.6 73.0 L119.6 105.0 L121.3 79.0 L123.0 89.0 L125.5 140.0 L126.4 169.4 L130.6 80.0 L132.3 49.0 L133.1 52.0 L133.8 63.0 L134.9 90.0 L136.7 133.2 L138.9 72.0 L139.7 65.8 L141.0 68.0 L143.9 58.2 L144.8 89.8 L146.0 90.0 L147.3 101.6 L149.0 103.0 L151.0 118.8 L152.8 72.0 L154.5 38.4 L156.5 49.0 L158.2 72.0 L159.8 111.3 L161.6 72.0 L163.6 33.4 L165.8 72.0 L168.3 105.0 L173.3 72.0 L175.8 40.6 L177.5 72.0 L180.0 84.0 L181.7 72.0 L184.2 36.7 L185.9 72.0 L187.6 88.1 L189.5 60.0 L191.8 44.8 L193.5 55.0 L195.1 61.6 L196.6 74.6 L201.4 47.0 L205.3 81.9 L209.0 43.8 L212.6 68.8 L216.3 45.2 L220.7 70.2 L223.9 47.0 L227.7 66.6 L230.9 45.5 L233.8 62.2 L236.7 49.2 L239.6 60.1 L242.3 48.4 L245.5 59.4 L248.4 49.6 L250.6 57.9 L252.8 49.2 L254.6 57.0 L256.2 50.0 L257.7 56.5 L259.1 50.5 L260.5 56.0 L261.9 50.0 L263.2 55.5 L264.4 50.5 L265.6 55.0 L266.8 50.5 L268.0 54.5 L268.9 50.8" fill="none" stroke="#0072BD" stroke-width="1.70" stroke-linejoin="round" stroke-linecap="round"/><path d="M268.9 50.8 L267.9 53.0 L267.5 55.4 L266.9 57.8 L265.7 59.8 L264.9 62.2 L263.3 64.0 L262.0 66.0 L260.8 67.6 L260.1 69.6 L258.6 71.0 L257.6 72.8 L256.2 74.3 L255.8 76.4 L254.0 77.6 L253.4 79.7 L251.9 81.1 L251.0 82.9 L249.6 84.5 L249.0 86.5 L247.8 88.1 L246.9 89.9 L245.3 91.3 L244.4 93.1 L243.5 95.0 L242.4 96.7 L241.4 98.4 L240.2 100.1 L238.8 101.7 L237.8 103.6 L236.5 105.2 L235.9 107.3 L234.2 108.8 L232.9 110.5 L232.0 112.4 L230.9 114.2 L229.7 115.9 L229.2 118.0 L227.8 119.7 L226.9 121.6 L225.3 123.1 L224.4 125.0 L223.7 127.0 L222.5 128.8 L221.3 130.5 L220.5 132.5 L219.8 134.5 L218.2 136.1 L217.9 138.3 L216.3 139.8 L215.1 141.5 L214.1 143.3 L212.9 145.0 L212.0 146.9 L211.2 148.8 L209.8 150.4 L208.5 152.0 L207.3 153.7 L206.5 155.6 L204.9 157.1 L204.5 159.2 L203.0 160.7 L202.2 162.7 L200.9 164.3 L199.3 165.7 L198.8 167.8 L197.0 169.1 L195.9 170.9 L195.0 172.7 L194.3 174.8 L192.9 176.3 L191.5 177.9 L191.2 180.2 L190.0 181.8 L189.0 183.7 L187.3 185.1 L186.2 186.8 L185.1 188.5 L184.1 190.4 L183.1 192.2 L182.4 194.2 L180.7 195.8 L179.1 197.4 L177.7 199.1 L176.8 201.3 L175.1 202.8 L166.3 215.1 L162.8 221.2 L160.2 224.2" fill="none" stroke="#0072BD" stroke-width="2.30" stroke-linejoin="round" stroke-linecap="round"/></g><rect x="228.60" y="11.2" width="97.2" height="29.9" fill="#fff" stroke="#6e6e6e" stroke-width="1"/><path d="M231.60 19.4 H258.20" stroke="#77AC30" stroke-width="0.85" stroke-dasharray="1.1 0.5"/><path d="M232.00 33.5 H258.00" stroke="#0072BD" stroke-width="1.5" stroke-linecap="round"/><text x="260.50" y="23.9">Experiments</text><text x="260.50" y="37.5">Simulation</text><text x="46.70" y="240.70" text-anchor="middle">0</text><text x="87.60" y="240.70" text-anchor="middle">2</text><text x="128.50" y="240.70" text-anchor="middle">4</text><text x="169.40" y="240.70" text-anchor="middle">6</text><text x="210.30" y="240.70" text-anchor="middle">8</text><text x="251.20" y="240.70" text-anchor="middle">10</text><text x="292.10" y="240.70" text-anchor="middle">12</text><text x="333.00" y="240.70" text-anchor="middle">14</text><text x="42.10" y="228.60" text-anchor="end">0</text><text x="42.10" y="173.70" text-anchor="end">1000</text><text x="42.10" y="118.80" text-anchor="end">2000</text><text x="42.10" y="63.90" text-anchor="end">3000</text><text x="42.10" y="9.00" text-anchor="end">4000</text><text x="190.85" y="258.70" text-anchor="middle">Displacement [mm]</text><text transform="translate(9.70 114.50) rotate(-90)" text-anchor="middle">Force [N]</text><text x="58.00" y="23.70">R, 4.55 kg</text>
<clipPath id="cR"><rect x="393.40" y="4.20" width="286.85" height="220.60"/></clipPath><g stroke="#6e6e6e" stroke-width="1" fill="none"><path d="M393.90 224.30 V221.50 M393.90 4.70 V7.50" /><path d="M434.74 224.30 V221.50 M434.74 4.70 V7.50" /><path d="M475.57 224.30 V221.50 M475.57 4.70 V7.50" /><path d="M516.41 224.30 V221.50 M516.41 4.70 V7.50" /><path d="M557.24 224.30 V221.50 M557.24 4.70 V7.50" /><path d="M598.08 224.30 V221.50 M598.08 4.70 V7.50" /><path d="M638.91 224.30 V221.50 M638.91 4.70 V7.50" /><path d="M679.75 224.30 V221.50 M679.75 4.70 V7.50" /><path d="M393.90 224.30 H396.70 M679.75 224.30 H676.95" /><path d="M393.90 169.40 H396.70 M679.75 169.40 H676.95" /><path d="M393.90 114.50 H396.70 M679.75 114.50 H676.95" /><path d="M393.90 59.60 H396.70 M679.75 59.60 H676.95" /><path d="M393.90 4.70 H396.70 M679.75 4.70 H676.95" /></g><rect x="393.90" y="4.70" width="285.85" height="219.60" fill="none" stroke="#6e6e6e" stroke-width="1"/><g clip-path="url(#cR)"><path d="M394.0 224.0 L394.6 222.5 L394.8 220.2 L394.9 217.6 L395.1 215.3 L395.3 213.3 L395.5 212.1 L395.6 209.9 L395.8 207.0 L396.0 204.5 L396.2 201.2 L396.3 199.9 L396.5 198.2 L396.8 196.9 L397.0 195.9 L397.2 194.8 L397.5 192.3 L397.8 190.4 L398.0 189.1 L398.3 188.4 L398.6 188.1 L398.9 187.6 L399.2 185.4 L400.1 186.4 L401.1 186.4 L402.0 187.6 L404.0 187.6 L406.0 187.1 L407.8 187.4 L409.5 185.9 L410.7 186.9 L411.8 188.6 L413.0 190.7 L413.9 192.8 L414.8 194.9 L415.7 197.5 L416.6 198.9 L417.5 199.2 L418.3 200.8 L419.0 202.9 L419.8 205.6 L420.4 203.2 L420.9 201.6 L421.4 199.4 L422.0 196.1 L422.4 194.4 L422.8 193.2 L423.2 192.3 L423.6 191.4 L424.0 190.8 L424.4 189.2 L425.2 186.8 L426.1 185.3 L427.0 183.3 L427.8 182.4 L428.4 182.0 L428.9 180.9 L429.4 179.2 L430.0 176.9 L430.4 174.7 L430.8 174.1 L431.2 173.4 L431.6 172.7 L432.0 171.7 L432.4 169.9 L432.7 168.0 L433.1 166.3 L433.4 164.7 L433.8 164.6 L434.1 164.2 L434.4 162.5 L434.8 161.6 L435.1 159.6 L435.5 157.3 L435.8 156.1 L436.4 154.9 L437.0 152.9 L437.7 151.0 L438.3 148.7 L438.9 145.8 L439.5 144.3 L440.2 143.0 L440.8 142.1 L441.4 141.3 L442.1 140.6 L442.7 139.2 L443.5 136.8 L444.3 134.5 L445.1 132.0 L445.9 130.7 L446.7 130.0 L447.5 127.7 L448.6 129.7 L449.6 131.0 L450.7 132.6 L451.8 134.6 L452.9 133.8 L453.9 133.2 L455.0 131.4 L456.1 130.2 L457.1 128.2 L458.2 125.3 L459.8 124.5 L461.4 123.9 L463.0 123.1 L464.6 122.0 L466.2 120.6 L466.8 118.4 L467.4 116.8 L468.0 116.7 L468.6 115.7 L469.2 115.4 L469.8 114.4 L470.4 112.8 L471.0 111.1 L472.1 109.3 L473.1 108.8 L474.2 108.0 L475.3 107.4 L476.3 106.6 L477.4 105.3 L478.2 104.2 L479.0 102.6 L480.6 101.3 L482.3 99.6 L483.9 98.4 L484.4 97.9 L484.9 95.7 L485.4 94.7 L485.9 92.4 L486.5 91.2 L487.0 90.7 L487.5 90.1 L488.0 89.8 L488.8 87.2 L489.6 83.9 L490.4 80.9 L491.2 78.7 L492.0 77.3 L493.6 79.7 L495.1 81.8 L496.7 83.1 L497.8 83.5 L498.9 83.8 L499.9 84.3 L501.0 86.1 L502.4 84.8 L503.7 83.5 L505.0 80.9 L506.4 79.3 L507.8 76.2 L509.2 75.2 L510.6 73.7 L512.0 72.9 L513.4 70.7 L514.7 69.3 L516.1 65.9 L517.3 65.3 L518.5 64.5 L519.7 63.9 L520.9 63.1 L522.9 62.3 L524.9 60.7 L526.9 58.7 L528.9 57.3 L530.1 58.4 L531.3 58.9 L532.5 59.5 L533.7 60.2 L535.8 59.5 L538.0 58.1 L540.1 58.2 L540.8 56.6 L541.5 55.0 L542.3 54.0 L543.0 52.9 L543.9 50.3 L544.8 47.4 L545.6 45.4 L546.5 43.9 L547.4 43.0 L548.4 45.0 L549.4 45.6 L550.4 46.2 L551.4 47.0 L551.9 47.4 L552.4 48.9 L552.8 50.7 L553.3 52.4 L553.8 54.2 L554.3 54.3 L554.8 55.2 L555.2 56.5 L555.7 57.0 L556.2 59.4 L557.0 60.8 L557.9 61.4 L558.7 62.7 L559.5 62.7 L560.1 59.9 L560.8 58.5 L561.4 56.2 L562.0 55.4 L562.6 53.5 L563.3 50.3 L564.0 48.5 L564.7 49.2 L565.5 50.8" fill="none" stroke="#77AC30" stroke-width="1.00" stroke-linejoin="round" opacity="1.00"/><path d="M565.5 50.8 L566.0 140.0 L566.5 150.0" fill="none" stroke="#77AC30" stroke-width="1.00" stroke-linejoin="round" stroke-dasharray="1.4 0.6" opacity="1.00"/><path d="M394.0 224.0 L394.6 222.0 L394.8 221.2 L394.9 219.1 L395.1 216.0 L395.3 213.6 L395.5 210.9 L395.6 209.4 L395.8 208.1 L396.0 207.0 L396.2 204.3 L396.3 202.5 L396.5 199.0 L397.0 197.0 L397.5 195.4 L398.0 194.8 L398.6 192.8 L399.2 190.8 L400.6 190.9 L402.0 191.6 L404.0 189.9 L405.0 189.4 L406.0 189.6 L407.8 188.4 L409.5 186.4 L410.7 187.8 L411.8 188.3 L413.0 189.5 L413.9 191.6 L414.8 193.3 L415.7 195.1 L416.6 196.5 L417.5 197.3 L418.3 198.9 L419.0 200.0 L419.8 202.8 L420.4 201.4 L420.9 199.3 L421.4 196.6 L422.0 194.4 L422.4 192.0 L422.8 191.3 L423.2 190.2 L423.6 189.6 L424.4 187.9 L425.2 186.4 L426.1 184.7 L427.0 183.5 L427.8 182.4 L428.4 181.3 L428.9 181.2 L429.4 180.2 L430.0 178.9 L430.8 176.6 L431.6 173.3 L432.4 171.8 L433.1 170.0 L433.8 168.5 L434.4 166.1 L435.1 163.9 L435.8 161.1 L436.4 158.8 L437.0 157.4 L437.7 155.8 L438.3 154.4 L438.9 152.0 L440.2 150.5 L441.4 147.9 L442.7 145.4 L443.5 143.4 L444.3 141.2 L445.1 139.9 L445.9 138.8 L446.7 136.5 L447.5 133.9 L448.6 134.7 L449.6 136.9 L450.7 138.3 L451.8 141.5 L452.9 139.9 L453.9 137.1 L455.0 134.2 L456.1 132.2 L457.1 130.2 L458.2 128.3 L459.0 127.7 L459.8 127.3 L460.6 126.6 L461.4 124.2 L462.2 123.6 L463.0 121.8 L463.8 121.3 L464.6 120.9 L465.4 121.1 L466.2 119.8 L466.8 117.4 L467.4 115.4 L468.0 114.9 L468.6 114.5 L469.2 113.1 L469.8 112.9 L470.4 111.8 L471.0 109.6 L472.1 108.3 L473.1 107.6 L474.2 106.8 L475.3 106.7 L476.3 106.6 L477.4 105.5 L479.0 103.8 L480.6 102.1 L482.3 101.8 L483.9 100.9 L484.9 100.0 L485.9 98.6 L487.0 95.9 L488.0 93.0 L488.8 90.7 L489.6 88.6 L490.4 87.3 L491.2 86.0 L492.0 84.6 L493.6 86.0 L495.1 87.1 L496.7 88.5 L497.8 89.1 L498.9 90.3 L501.0 91.6 L501.7 91.1 L502.4 89.6 L503.0 87.4 L503.7 86.2 L504.4 84.8 L505.0 84.6 L505.7 84.2 L506.4 82.7 L507.1 81.4 L507.8 79.5 L508.5 77.6 L509.2 76.2 L509.9 75.5 L510.6 75.9 L511.3 74.6 L512.0 72.7 L512.7 71.2 L513.4 69.2 L514.0 68.6 L514.7 68.3 L515.4 67.7 L516.1 66.6 L517.3 65.6 L518.5 63.7 L519.7 61.3 L520.9 60.7 L522.9 60.5 L524.9 60.2 L526.9 60.4 L528.9 59.4 L530.1 60.1 L531.3 60.5 L532.5 60.6 L533.7 62.7 L535.8 63.7 L538.0 65.0 L540.1 65.5 L540.8 63.4 L541.5 61.1 L542.3 59.0 L543.0 58.3 L543.9 56.5 L544.8 55.4 L545.6 52.8 L546.5 50.1 L547.4 47.6 L548.4 48.7 L549.4 50.9 L550.4 51.5 L551.4 52.7 L552.4 54.2 L553.3 55.4 L554.3 57.4 L555.2 59.2 L556.2 61.7 L557.9 63.6 L559.5 64.4 L559.8 62.3 L560.1 60.6 L560.4 59.3 L560.8 58.4 L561.1 58.0 L561.4 56.9 L561.7 55.6 L562.0 54.3 L562.6 51.8 L563.3 48.5 L564.0 47.1 L564.6 45.5 L565.2 46.8 L565.8 48.0 L566.4 48.3 L567.0 49.5" fill="none" stroke="#77AC30" stroke-width="1.00" stroke-linejoin="round" stroke-dasharray="1.2 0.5" opacity="1.00"/><path d="M567.0 49.5 L567.5 146.0 L568.0 158.0" fill="none" stroke="#77AC30" stroke-width="1.00" stroke-linejoin="round" stroke-dasharray="1.4 0.6" opacity="1.00"/><path d="M394.0 224.0 L394.6 222.7 L394.8 219.5 L394.9 217.5 L395.1 215.4 L395.3 213.6 L395.5 212.5 L395.6 210.8 L395.8 208.0 L396.0 205.8 L396.2 203.3 L396.3 201.1 L396.5 199.9 L397.0 198.3 L397.5 196.0 L398.0 193.4 L398.3 191.4 L398.6 190.4 L398.9 189.1 L399.2 188.4 L400.6 189.4 L402.0 190.4 L403.0 189.1 L404.0 188.0 L405.0 186.4 L406.0 186.2 L407.8 185.6 L409.5 185.2 L410.7 186.7 L411.8 188.0 L413.0 189.4 L413.9 191.2 L414.8 193.0 L415.7 195.7 L416.6 198.0 L417.5 200.3 L417.9 201.7 L418.3 201.5 L418.6 202.1 L419.0 203.7 L419.4 205.5 L419.8 207.1 L420.4 205.6 L420.9 203.2 L421.4 200.8 L422.0 198.6 L422.8 196.6 L423.6 195.0 L424.4 193.6 L425.2 193.5 L426.1 191.7 L427.0 190.3 L427.8 189.2 L428.9 186.9 L429.4 186.0 L430.0 186.0 L430.8 183.9 L431.6 181.8 L432.4 178.6 L433.1 175.8 L433.8 174.0 L434.4 171.8 L434.8 171.2 L435.1 170.8 L435.5 169.3 L435.8 166.7 L436.4 163.9 L437.0 162.5 L437.7 160.8 L438.3 158.6 L438.9 156.4 L439.5 155.3 L440.2 153.6 L440.8 151.0 L441.4 150.0 L442.1 149.5 L442.7 148.3 L443.1 147.6 L443.5 145.7 L443.9 144.2 L444.3 142.3 L444.7 141.0 L445.1 140.6 L445.5 139.8 L445.9 138.8 L446.3 137.3 L446.7 135.7 L447.1 133.9 L447.5 133.2 L448.6 134.8 L449.6 136.7 L450.7 138.3 L451.8 139.5 L452.9 137.2 L453.9 134.1 L455.0 132.5 L456.1 131.5 L457.1 130.2 L458.2 128.2 L459.8 126.7 L461.4 124.4 L463.0 122.2 L464.6 121.0 L466.2 120.5 L467.4 120.1 L468.6 118.2 L469.8 116.6 L471.0 114.5 L473.1 113.1 L475.3 111.8 L477.4 111.0 L479.0 111.0 L480.6 110.1 L482.3 109.1 L483.9 107.3 L484.4 105.9 L484.9 104.7 L485.4 104.5 L485.9 103.6 L486.5 102.5 L487.0 101.3 L487.5 98.8 L488.0 97.8 L488.4 96.7 L488.8 96.3 L489.2 94.9 L489.6 94.0 L490.0 93.2 L490.4 90.5 L490.8 89.2 L491.2 88.4 L491.6 87.6 L492.0 87.5 L493.6 88.6 L495.1 88.4 L496.7 88.4 L498.9 89.1 L501.0 89.1 L501.7 88.3 L502.4 87.6 L503.0 86.4 L503.7 85.4 L504.4 83.3 L505.0 82.0 L505.7 81.4 L506.4 80.5 L507.1 80.5 L507.8 78.6 L508.5 77.8 L509.2 76.1 L509.9 74.9 L510.6 73.1 L512.0 72.2 L513.4 71.3 L514.7 70.0 L516.1 68.0 L517.3 66.7 L518.5 66.5 L519.7 66.3 L520.9 66.3 L522.9 67.3 L524.9 67.1 L526.9 66.2 L528.9 66.2 L530.1 66.0 L531.3 67.6 L532.5 68.8 L533.7 69.5 L535.8 69.6 L538.0 68.9 L540.1 68.1 L540.8 66.4 L541.5 63.7 L542.3 62.9 L543.0 60.6 L543.4 59.6 L543.9 58.1 L544.3 56.1 L544.8 55.2 L545.2 53.4 L545.6 53.1 L546.1 52.2 L546.5 50.9 L547.0 49.8 L547.4 47.6 L549.4 48.3 L551.4 49.7 L552.4 51.4 L553.3 53.7 L554.3 56.2 L555.2 57.8 L556.2 58.0 L557.9 59.4 L559.5 61.6 L560.1 59.8 L560.8 58.3 L561.4 55.6 L562.0 53.4 L562.6 49.8 L563.3 48.0 L564.0 46.7 L564.6 45.0 L565.4 46.7 L566.1 47.9 L566.9 48.5 L567.6 49.5 L568.4 50.5 L569.1 51.3 L569.9 53.0 L570.7 55.0 L571.5 56.0 L572.3 56.6 L572.9 57.3 L573.5 59.1" fill="none" stroke="#77AC30" stroke-width="1.00" stroke-linejoin="round" opacity="1.00"/><path d="M573.5 59.1 L574.0 152.0 L574.5 166.0" fill="none" stroke="#77AC30" stroke-width="1.00" stroke-linejoin="round" stroke-dasharray="1.4 0.6" opacity="1.00"/><path d="M394.0 224.0 L394.6 221.2 L394.8 219.6 L394.9 218.2 L395.1 216.2 L395.3 214.2 L395.5 212.3 L395.6 209.0 L395.8 206.8 L396.0 205.3 L396.2 203.8 L396.3 201.6 L396.5 199.7 L397.0 197.2 L397.5 195.0 L398.0 191.6 L398.6 189.8 L399.2 188.2 L400.1 189.8 L401.1 191.2 L402.0 191.4 L404.0 190.5 L406.0 190.1 L407.8 189.8 L409.5 189.6 L410.7 192.6 L411.8 194.6 L413.0 196.4 L413.9 197.1 L414.8 198.8 L415.7 201.1 L416.6 204.0 L417.5 206.2 L418.3 208.4 L419.0 210.0 L419.8 211.5 L420.4 208.9 L420.9 207.7 L421.4 206.1 L422.0 204.6 L422.8 202.1 L423.2 200.7 L423.6 198.5 L424.0 197.1 L424.4 195.8 L425.2 195.4 L426.1 194.5 L427.0 193.2 L427.8 192.3 L428.4 189.4 L428.9 188.4 L429.4 187.2 L430.0 185.8 L430.4 185.6 L430.8 185.0 L431.2 183.2 L431.6 180.9 L432.0 179.4 L432.4 178.3 L432.7 177.2 L433.1 176.8 L433.4 175.7 L433.8 173.8 L434.1 172.3 L434.4 170.3 L434.8 169.5 L435.1 168.2 L435.5 167.9 L435.8 166.4 L436.1 165.3 L436.4 163.7 L436.7 161.8 L437.0 160.9 L437.4 160.4 L437.7 159.4 L438.0 158.4 L438.3 157.0 L438.6 155.2 L438.9 153.4 L439.5 152.4 L440.2 151.6 L440.8 151.2 L441.4 150.1 L442.1 148.1 L442.7 146.5 L443.5 144.1 L444.3 141.9 L445.1 140.8 L445.9 138.5 L446.7 137.1 L447.5 133.8 L448.6 135.2 L449.6 137.3 L450.7 138.7 L451.8 141.9 L452.9 141.3 L453.9 139.9 L455.0 137.7 L456.1 135.2 L457.1 133.5 L458.2 132.6 L459.8 131.7 L461.4 131.2 L463.0 131.1 L464.6 129.2 L466.2 126.9 L467.4 124.9 L468.6 123.1 L469.8 122.4 L471.0 120.3 L472.1 119.9 L473.1 118.5 L474.2 116.4 L475.3 115.0 L476.3 114.5 L477.4 114.0 L478.2 113.8 L479.0 112.7 L479.8 111.7 L480.6 109.8 L481.5 108.2 L482.3 108.3 L483.1 108.1 L483.9 107.5 L484.4 106.1 L484.9 104.6 L485.4 102.8 L485.9 100.2 L486.5 99.7 L487.0 98.6 L487.5 98.2 L488.0 96.9 L488.4 95.4 L488.8 93.8 L489.2 92.5 L489.6 91.0 L490.0 90.2 L490.4 90.6 L490.8 89.2 L491.2 87.2 L491.6 85.0 L492.0 83.5 L493.6 85.9 L495.1 87.4 L496.7 89.7 L497.8 90.2 L498.9 90.2 L499.9 90.4 L501.0 90.2 L502.4 88.9 L503.7 88.2 L505.0 87.5 L506.4 85.9 L507.8 83.8 L509.2 81.4 L510.6 79.5 L512.0 78.0 L513.4 77.8 L514.7 77.0 L516.1 75.4 L517.3 74.4 L518.5 73.4 L519.7 72.4 L520.9 71.2 L522.9 71.4 L524.9 71.5 L526.9 70.5 L528.9 68.4 L530.1 68.6 L531.3 68.0 L532.5 68.7 L533.7 68.8 L535.8 68.8 L538.0 67.8 L540.1 67.6 L540.8 64.5 L541.5 62.6 L542.3 60.4 L543.0 58.7 L543.4 58.1 L543.9 56.9 L544.3 55.0 L544.8 53.1 L545.2 52.3 L545.6 51.2 L546.5 49.8 L547.4 48.4 L548.4 48.7 L549.4 49.1 L550.4 49.3 L551.4 50.0 L551.9 51.9 L552.4 53.1 L552.8 55.0 L553.3 55.7 L553.8 56.8 L554.3 57.0 L554.8 58.6 L555.2 59.7 L555.7 61.7 L556.2 63.1 L557.0 64.3 L557.9 64.6 L558.7 65.0 L559.5 65.2 L560.1 63.6 L560.8 62.9 L561.4 60.9 L562.0 59.3 L562.6 56.5 L563.3 54.2 L564.0 52.1 L564.6 50.9 L565.4 52.4 L566.1 54.3 L566.9 54.7 L567.6 55.0 L568.4 55.3 L569.1 56.4 L570.7 59.0 L572.3 60.8 L573.1 62.0 L573.9 63.2 L574.4 61.7 L575.0 59.7 L575.5 58.9" fill="none" stroke="#77AC30" stroke-width="1.00" stroke-linejoin="round" stroke-dasharray="1.2 0.5" opacity="1.00"/><path d="M575.5 58.9 L576.0 158.0 L576.5 174.0" fill="none" stroke="#77AC30" stroke-width="1.00" stroke-linejoin="round" stroke-dasharray="1.4 0.6" opacity="1.00"/><path d="M394.0 224.0 L394.6 221.7 L394.8 219.5 L394.9 217.5 L395.1 216.4 L395.3 215.3 L395.5 213.2 L395.6 209.9 L395.8 207.7 L396.0 206.6 L396.2 204.5 L396.3 203.9 L396.5 202.0 L397.0 200.6 L397.5 198.8 L398.0 196.5 L398.6 195.1 L399.2 194.1 L400.1 195.9 L401.1 197.0 L402.0 197.3 L404.0 195.9 L406.0 194.4 L407.8 192.9 L409.5 192.1 L410.7 194.6 L411.8 195.8 L413.0 197.4 L413.9 198.5 L414.8 199.5 L415.7 200.5 L416.6 202.8 L417.5 205.6 L418.3 207.2 L419.0 209.5 L419.8 210.0 L420.4 207.9 L420.9 204.9 L421.4 203.9 L422.0 202.5 L422.4 201.3 L422.8 200.0 L423.2 198.4 L423.6 196.9 L424.4 193.8 L425.2 193.5 L426.1 192.5 L427.0 192.0 L427.8 190.2 L428.4 188.4 L428.9 187.3 L429.4 185.6 L430.0 185.1 L430.8 183.4 L431.6 182.3 L432.4 179.2 L433.1 176.1 L433.8 174.0 L434.4 172.0 L435.1 170.3 L435.8 168.7 L436.4 166.9 L437.0 164.7 L437.7 161.6 L438.3 159.6 L438.9 157.5 L440.2 156.3 L441.4 155.1 L442.7 153.3 L443.5 150.7 L444.3 148.1 L445.1 145.9 L445.9 143.9 L446.7 142.0 L447.5 141.6 L448.6 143.0 L449.6 144.9 L450.7 146.2 L451.8 147.2 L452.9 146.1 L453.9 145.0 L455.0 144.0 L456.1 142.2 L457.1 139.6 L458.2 137.3 L459.8 135.5 L460.6 134.4 L461.4 134.3 L462.2 133.1 L463.0 133.0 L463.8 131.2 L464.6 129.5 L465.4 128.2 L466.2 127.2 L466.8 126.5 L467.4 126.1 L468.0 125.1 L468.6 123.5 L469.2 122.2 L469.8 119.8 L470.4 118.9 L471.0 118.1 L472.1 118.1 L473.1 116.9 L474.2 115.8 L475.3 113.8 L476.3 112.3 L477.4 111.8 L479.0 110.6 L480.6 110.7 L482.3 109.3 L483.9 107.6 L484.9 105.0 L485.9 103.0 L487.0 100.6 L488.0 99.2 L488.8 97.6 L489.6 95.9 L490.4 94.0 L491.2 91.1 L492.0 88.4 L493.6 91.0 L495.1 92.7 L496.7 95.2 L497.8 96.6 L498.9 97.0 L499.9 96.6 L501.0 96.4 L502.4 95.4 L503.7 94.0 L505.0 92.3 L505.7 91.7 L506.4 90.9 L507.1 88.3 L507.8 87.0 L508.5 86.1 L509.2 86.3 L509.9 85.3 L510.6 84.7 L511.3 83.1 L512.0 80.6 L512.7 79.6 L513.4 78.5 L514.0 78.8 L514.7 78.1 L515.4 77.1 L516.1 76.1 L517.3 74.3 L518.5 72.1 L519.7 71.2 L520.9 71.0 L522.9 70.7 L524.9 70.1 L526.9 68.7 L528.9 67.8 L530.1 67.6 L531.3 68.6 L532.5 69.5 L533.7 70.2 L535.8 71.0 L538.0 70.5 L540.1 70.8 L540.8 68.1 L541.5 67.3 L542.3 65.4 L543.0 64.7 L543.9 62.0 L544.8 59.5 L545.6 56.8 L546.5 55.0 L547.4 53.1 L548.4 54.5 L549.4 55.7 L550.4 56.2 L551.4 56.7 L552.4 57.9 L553.3 60.6 L554.3 62.1 L555.2 65.3 L556.2 67.1 L557.9 68.8 L559.5 69.9 L559.8 67.6 L560.1 66.0 L560.4 65.9 L560.8 64.8 L561.1 63.8 L561.4 63.4 L561.7 62.0 L562.0 59.6 L562.6 56.6 L563.3 55.1 L564.0 53.8 L564.6 51.8 L566.1 53.5 L567.6 54.8 L569.1 55.6 L570.7 56.5 L572.3 57.9 L573.1 59.4 L573.9 61.7 L575.1 61.5 L576.3 62.1 L577.5 62.5" fill="none" stroke="#77AC30" stroke-width="1.00" stroke-linejoin="round" opacity="1.00"/><path d="M577.5 62.5 L578.0 164.0 L578.5 182.0" fill="none" stroke="#77AC30" stroke-width="1.00" stroke-linejoin="round" stroke-dasharray="1.4 0.6" opacity="1.00"/><path d="M394.0 224.0 L394.6 221.6 L394.8 219.6 L394.9 217.8 L395.1 215.8 L395.3 215.2 L395.5 213.3 L395.6 211.0 L395.8 208.7 L396.0 206.9 L396.2 204.5 L396.3 203.8 L396.5 202.4 L397.0 201.1 L397.5 199.6 L398.0 197.4 L398.6 195.6 L399.2 194.4 L400.6 195.6 L402.0 196.1 L403.0 196.4 L404.0 194.9 L405.0 193.8 L406.0 192.4 L407.8 190.8 L409.5 189.8 L410.7 192.6 L411.8 194.5 L413.0 195.4 L413.9 196.0 L414.8 198.1 L415.7 200.1 L416.6 202.7 L417.5 205.5 L417.9 206.9 L418.3 207.5 L418.6 207.6 L419.0 208.5 L419.4 209.7 L419.8 211.8 L420.4 210.4 L420.9 208.9 L421.4 206.3 L422.0 203.8 L422.8 201.9 L423.6 200.0 L424.4 198.9 L426.1 197.8 L427.8 196.0 L428.9 194.0 L430.0 191.4 L430.8 188.8 L431.6 186.7 L432.4 185.3 L433.1 184.1 L433.8 182.5 L434.4 180.0 L435.1 177.3 L435.8 174.2 L436.4 171.6 L437.0 170.2 L437.7 168.6 L438.3 167.4 L438.9 164.3 L439.5 162.8 L440.2 160.9 L440.8 160.0 L441.4 159.7 L442.1 158.9 L442.7 157.2 L443.1 156.2 L443.5 154.1 L443.9 153.2 L444.3 151.4 L444.7 150.8 L445.1 151.0 L445.5 149.4 L445.9 147.5 L446.3 146.4 L446.7 144.9 L447.1 143.4 L447.5 142.5 L448.6 145.3 L449.6 146.3 L450.7 147.2 L451.8 147.7 L452.9 146.0 L453.9 143.4 L455.0 141.8 L456.1 140.5 L457.1 138.9 L458.2 136.8 L459.8 133.5 L461.4 131.8 L463.0 130.0 L464.6 129.8 L466.2 128.6 L467.4 127.0 L468.6 124.9 L469.8 122.1 L471.0 119.9 L472.1 119.1 L473.1 119.3 L475.3 119.4 L477.4 118.6 L479.0 117.2 L480.6 115.1 L482.3 114.5 L483.9 113.8 L484.9 112.4 L485.9 110.7 L487.0 108.6 L487.5 106.7 L488.0 104.9 L488.8 102.2 L489.6 100.6 L490.4 98.7 L490.8 98.6 L491.2 97.0 L491.6 95.4 L492.0 93.4 L493.6 94.3 L495.1 96.0 L496.7 97.6 L498.9 98.6 L501.0 98.2 L501.7 97.2 L502.4 95.2 L503.0 93.5 L503.7 93.2 L504.4 92.4 L505.0 91.4 L505.7 90.9 L506.4 88.9 L507.1 87.1 L507.8 85.6 L508.5 84.7 L509.2 83.8 L509.9 84.1 L510.6 82.6 L511.3 81.2 L512.0 79.2 L513.4 77.6 L514.7 75.8 L516.1 74.9 L517.3 75.1 L518.5 75.3 L519.7 74.2 L520.9 73.1 L522.9 72.3 L524.9 73.2 L526.9 74.2 L528.9 74.7 L530.1 75.2 L531.3 75.1 L532.5 75.5 L533.7 76.5 L535.8 77.0 L538.0 77.4 L540.1 77.6 L540.8 75.7 L541.5 72.9 L542.3 69.9 L543.0 67.7 L543.4 66.4 L543.9 65.3 L544.3 65.2 L544.8 63.9 L545.2 61.5 L545.6 60.0 L546.1 58.8 L546.5 57.5 L547.0 56.8 L547.4 55.8 L549.4 56.2 L551.4 57.0 L552.4 57.3 L553.3 58.9 L554.3 60.5 L555.2 63.3 L556.2 65.7 L557.9 66.7 L559.5 67.6 L559.8 65.0 L560.1 63.5 L560.4 62.8 L560.8 62.3 L561.1 62.2 L561.4 60.3 L561.7 58.8 L562.0 57.6 L562.6 54.6 L563.3 52.9 L564.0 51.5 L564.6 49.9 L565.4 50.9 L566.1 51.9 L566.9 51.5 L567.6 52.3 L568.4 54.5 L569.1 56.2 L569.9 57.3 L570.7 58.2 L571.5 58.6 L572.3 58.7 L572.8 59.7 L573.4 61.1 L573.9 63.2 L575.0 64.1 L576.1 65.0 L577.3 64.5 L578.4 65.5 L579.5 66.2" fill="none" stroke="#77AC30" stroke-width="1.00" stroke-linejoin="round" stroke-dasharray="1.2 0.5" opacity="1.00"/><path d="M579.5 66.2 L580.0 170.0 L580.5 190.0" fill="none" stroke="#77AC30" stroke-width="1.00" stroke-linejoin="round" stroke-dasharray="1.4 0.6" opacity="1.00"/><path d="M442.1 223.4 L443.6 222.7 L445.2 221.9 L446.7 220.5 L448.2 219.6 L449.7 218.4 L451.3 217.6 L452.8 217.1 L454.4 217.0 L456.1 216.6 L457.7 216.3 L459.4 215.9 L461.0 215.6 L462.8 215.8 L464.6 215.6 L466.3 215.7 L468.1 215.3 L469.9 214.7 L471.5 214.3 L473.1 213.9 L474.8 213.6 L476.4 213.6 L478.0 213.1 L479.7 212.5 L481.4 211.6 L483.2 211.0 L484.9 210.5 L486.5 209.4 L488.1 208.7 L489.7 207.5 L491.3 206.4 L492.6 205.3 L493.9 204.0 L495.1 203.0 L496.4 201.8 L497.7 201.2 L499.8 201.5 L501.9 202.0 L504.0 202.0 L505.6 200.8 L507.2 199.7 L508.9 198.9 L510.5 197.9 L512.1 197.5 L513.7 196.3 L515.3 195.5 L516.9 194.2 L518.9 194.0 L521.0 193.9 L523.0 193.7 L524.7 192.7 L526.4 191.7 L528.0 190.4 L529.7 189.0 L531.3 188.1 L533.0 187.5 L534.6 186.8 L536.2 186.3 L537.8 185.3 L539.4 184.4 L541.0 183.1 L542.6 182.5 L543.7 181.4 L544.8 180.5 L545.9 179.7 L547.0 178.3 L548.5 176.2 L550.0 174.0 L550.8 175.5 L551.6 177.2 L552.4 179.3 L553.2 181.2 L554.6 181.8 L556.1 182.1 L557.5 182.9 L559.1 181.5 L560.7 180.5 L562.3 179.8 L563.9 178.8 L565.0 176.9 L566.0 175.4 L567.1 173.3 L568.2 171.8 L568.7 170.1 L569.2 168.7 L569.7 167.5 L570.2 165.7 L570.8 163.6 L571.3 161.5 L571.8 159.8 L572.3 158.5" fill="none" stroke="#77AC30" stroke-width="1.00" stroke-linejoin="round" opacity="1.00"/><path d="M444.3 223.4 L445.7 222.8 L447.1 221.7 L448.6 220.7 L450.0 219.9 L451.4 219.0 L452.8 218.3 L454.3 217.9 L455.7 217.0 L457.1 216.2 L458.8 215.8 L460.4 215.3 L462.1 215.4 L463.7 215.4 L465.4 215.6 L467.0 215.5 L468.7 215.5 L470.3 214.9 L472.0 214.6 L473.6 214.1 L475.1 213.7 L476.7 213.4 L478.3 213.1 L479.9 212.4 L481.4 211.3 L483.0 210.8 L484.5 209.4 L486.1 208.7 L487.6 207.6 L489.1 206.6 L490.7 205.5 L492.4 204.2 L494.0 202.9 L495.6 201.8 L497.7 200.8 L499.8 200.1 L501.4 200.8 L503.0 201.3 L504.6 201.6 L506.2 201.7 L507.6 201.1 L509.1 200.7 L510.5 200.1 L511.9 199.7 L513.4 198.5 L514.8 197.7 L516.2 196.2 L517.7 194.9 L519.1 193.5 L520.7 194.7 L522.3 196.0 L523.9 196.8 L525.5 197.8 L527.1 196.4 L528.7 195.3 L530.3 194.6 L531.9 193.8 L533.2 192.5 L534.5 191.1 L535.7 189.6 L537.0 188.1 L538.3 186.7 L540.0 186.6 L541.7 186.6 L543.4 186.1 L545.1 185.7 L546.8 185.1 L548.5 184.9 L550.2 185.7 L552.0 186.2 L553.7 186.7 L555.4 187.3 L557.0 186.2 L558.6 184.8 L560.2 183.7 L561.8 182.5 L563.2 181.8 L564.6 180.9 L566.0 180.1 L567.5 178.9 L568.9 177.2 L570.3 176.4" fill="none" stroke="#77AC30" stroke-width="1.00" stroke-linejoin="round" opacity="1.00"/><path d="M450.7 223.4 L452.4 222.8 L454.0 221.6 L455.7 220.4 L457.3 219.7 L459.0 219.1 L460.8 218.5 L462.5 218.2 L464.3 217.2 L466.0 216.5 L467.8 215.5 L469.6 215.1 L471.4 214.8 L473.1 214.6 L474.9 214.1 L476.7 213.6 L478.5 212.6 L480.2 211.7 L481.9 211.1 L483.6 210.8 L485.3 210.4 L487.0 209.6 L488.7 209.2 L490.4 208.5 L492.2 208.0 L493.9 207.7 L495.6 207.2 L497.3 207.2 L499.0 207.5 L500.6 207.2 L502.3 206.8 L504.0 206.1 L505.5 206.8 L506.9 207.6 L508.4 208.8 L509.5 209.9 L510.5 211.0 L511.6 212.1 L512.7 213.3 L513.7 214.3 L514.8 216.0 L516.0 214.8 L517.3 213.9 L518.5 212.4 L519.8 211.1 L521.0 209.9 L521.9 208.5 L522.9 206.9 L523.8 205.8 L524.8 204.4 L525.7 202.9 L526.7 201.3 L527.6 199.7 L528.9 200.9 L530.2 202.3 L531.4 203.8 L532.7 205.3 L534.0 206.4 L535.6 207.0 L537.2 207.8 L538.8 208.5 L540.4 209.2 L541.5 211.5 L542.5 213.2 L543.6 214.5 L544.7 216.0 L545.3 214.0 L545.9 212.8 L546.5 211.1 L547.2 210.2 L547.8 208.7 L548.4 207.2 L549.0 205.2 L550.3 204.0 L551.6 203.0 L552.8 201.8 L554.1 201.0 L555.4 200.2 L557.5 199.9 L559.7 199.7 L560.2 201.0 L560.8 202.8 L561.3 204.7 L561.8 206.5 L562.3 208.2 L562.9 209.5 L563.4 210.9 L563.9 212.5 L564.6 210.8 L565.3 209.5 L566.0 208.4 L566.8 207.3 L567.5 205.8 L568.2 203.9 L568.6 201.9 L569.0 200.4 L569.4 199.1 L569.9 197.8 L570.3 196.1 L570.7 194.4 L571.1 192.4 L571.5 191.0" fill="none" stroke="#77AC30" stroke-width="1.00" stroke-linejoin="round" opacity="1.00"/><path d="M493.4 223.4 L494.6 222.6 L495.8 221.2 L497.0 219.6 L498.2 218.5 L499.3 217.3 L500.5 216.4 L501.7 215.4 L502.9 214.3 L504.1 212.9 L506.2 211.4 L508.4 210.1 L509.7 209.3 L511.0 207.9 L512.2 207.0 L513.5 206.0 L514.8 204.3 L515.9 202.5 L516.9 201.0 L518.0 199.6 L519.1 198.6 L520.1 197.2 L521.2 195.7 L522.8 195.2 L524.4 194.3 L526.0 193.6 L527.6 193.1 L529.2 194.2 L530.8 194.7 L532.4 195.4 L534.0 195.7 L535.4 196.7 L536.9 197.3 L538.3 198.7 L539.7 200.1 L541.2 201.2 L542.6 202.4 L544.2 201.6 L545.8 200.8 L547.4 200.4 L549.0 199.7 L549.6 198.6 L550.3 197.1 L550.9 195.9 L551.6 193.9 L552.2 192.5 L552.8 190.5 L553.5 189.2 L554.1 187.9 L554.8 186.7 L555.4 185.4 L556.7 183.8 L558.0 182.1 L559.2 180.7 L560.5 179.6 L561.8 178.6 L562.8 177.4 L563.9 175.9 L564.9 174.5 L565.9 172.8 L567.0 171.3 L568.0 170.0" fill="none" stroke="#77AC30" stroke-width="1.00" stroke-linejoin="round" opacity="1.00"/><path d="M456.0 224.0 L457.5 222.8 L459.0 222.4 L460.5 221.7 L462.0 221.3 L463.6 221.0 L465.2 220.7 L466.8 220.0 L468.4 220.1 L470.0 219.7 L471.6 220.1 L473.2 220.8 L474.8 221.0 L476.4 221.0 L478.0 220.9 L479.6 220.0 L481.2 219.5 L482.8 219.2 L484.4 218.8 L486.0 218.1 L487.6 218.7 L489.2 219.3 L490.8 220.0 L492.4 221.2 L494.0 222.3 L496.0 222.6 L498.0 223.2 L500.0 223.5" fill="none" stroke="#77AC30" stroke-width="1.00" stroke-linejoin="round" opacity="1.00"/><path d="M405.0 224.0 L406.0 222.2 L407.0 220.6 L408.0 219.2 L410.0 219.2 L412.0 218.6 L414.0 219.8 L416.0 220.7 L418.0 219.6 L420.0 219.1 L421.3 220.6 L422.7 222.5 L424.0 223.5" fill="none" stroke="#77AC30" stroke-width="1.00" stroke-linejoin="round" opacity="1.00"/><path d="M396.0 224.0 L397.3 222.8 L398.7 221.7 L400.0 220.2 L402.0 219.8 L404.0 219.4 L405.7 220.0 L407.3 221.1 L409.0 222.3 L411.0 221.3 L413.0 220.0 L414.7 220.8 L416.3 221.3 L418.0 222.5" fill="none" stroke="#77AC30" stroke-width="1.00" stroke-linejoin="round" opacity="1.00"/><path d="M446.0 224.0 L447.5 223.0 L449.0 222.3 L450.5 221.2 L452.0 220.1 L454.0 219.5 L456.0 218.7 L458.0 218.3 L459.5 219.2 L461.0 219.7 L462.5 220.6 L464.0 221.1 L466.0 220.2 L468.0 219.6 L470.0 218.6 L471.5 220.0 L473.0 221.3 L474.5 222.5 L476.0 223.5" fill="none" stroke="#77AC30" stroke-width="1.00" stroke-linejoin="round" opacity="1.00"/><path d="M569.0 162.0 L569.6 150.7 L570.2 139.9 L570.8 134.9 L571.4 138.2 L572.0 148.1 L572.6 159.5 L573.2 167.3 L573.8 168.4 L574.4 163.7 L575.0 157.2 L575.6 153.6 L576.2 155.8 L576.8 163.1 L577.4 171.4 L578.0 176.1 L578.6 174.1 L579.2 166.2 L579.8 156.5 L580.4 150.6 L581.0 152.5 L581.6 162.2 L582.2 175.9 L582.8 187.6 L583.4 192.4 L584.0 188.6 L584.6 178.9 L585.2 168.7 L585.8 163.4 L586.4 165.4 L587.0 173.2 L587.6 182.4 L588.2 188.1 L588.8 187.9 L589.4 182.8 L590.0 177.0 L590.6 175.1 L591.2 179.4 L591.8 188.9" fill="none" stroke="#77AC30" stroke-width="1.00" stroke-linejoin="round" stroke-dasharray="1.3 0.5" opacity="1.00"/><path d="M570.0 182.0 L570.6 173.8 L571.2 164.7 L571.8 158.5 L572.4 157.6 L573.0 162.3 L573.6 170.5 L574.2 178.7 L574.8 183.4 L575.4 182.4 L576.0 175.8 L576.6 166.0 L577.2 156.6 L577.8 151.5 L578.4 153.0 L579.0 161.1 L579.6 173.4 L580.2 186.2 L580.8 195.4 L581.4 198.5 L582.0 195.2 L582.6 187.6 L583.2 179.2 L583.8 173.6 L584.4 173.3 L585.0 178.4 L585.6 186.9 L586.2 195.2 L586.8 199.9 L587.4 198.7 L588.0 191.7 L588.6 181.3 L589.2 171.3 L589.8 165.5 L590.4 166.4 L591.0 173.9 L591.6 185.9 L592.2 198.4 L592.8 207.7 L593.4 210.9 L594.0 208.0 L594.6 200.8 L595.2 193.0 L595.8 188.1" fill="none" stroke="#77AC30" stroke-width="1.00" stroke-linejoin="round" stroke-dasharray="1.3 0.5" opacity="1.00"/><path d="M572.0 143.1 L572.6 148.5 L573.2 146.8 L573.8 139.2 L574.4 131.0 L575.0 128.5 L575.6 134.5 L576.2 146.6 L576.8 158.4 L577.4 163.8 L578.0 160.8 L578.6 152.6 L579.2 145.5 L579.8 144.5 L580.4 150.5 L581.0 159.0 L581.6 164.1 L582.2 161.8 L582.8 153.3 L583.4 144.1 L584.0 140.7 L584.6 146.0 L585.2 157.7 L585.8 169.4 L586.4 175.2 L587.0 172.8 L587.6 165.5 L588.2 159.3 L588.8 159.3 L589.4 165.9 L590.0 174.9 L590.6 180.0 L591.2 177.4 L591.8 168.3 L592.4 158.3 L593.0 154.0 L593.6 158.4 L594.2 169.3 L594.8 180.6 L595.4 186.2 L596.0 184.1 L596.6 177.4 L597.2 172.0 L597.8 173.0 L598.4 180.5 L599.0 190.3 L599.6 195.9" fill="none" stroke="#77AC30" stroke-width="1.00" stroke-linejoin="round" stroke-dasharray="1.3 0.5" opacity="1.00"/><path d="M574.0 188.9 L574.6 181.6 L575.2 173.4 L575.8 168.6 L576.4 169.5 L577.0 175.5 L577.6 183.6 L578.2 189.6 L578.8 190.2 L579.4 184.7 L580.0 175.1 L580.6 165.9 L581.2 161.3 L581.8 164.0 L582.4 173.6 L583.0 186.8 L583.6 198.6 L584.2 204.7 L584.8 203.2 L585.4 195.5 L586.0 185.3 L586.6 177.2 L587.2 174.6 L587.8 178.3 L588.4 186.0 L589.0 193.6 L589.6 197.4 L590.2 195.4 L590.8 188.6 L591.4 180.5 L592.0 175.5 L592.6 176.7 L593.2 184.6 L593.8 196.8 L594.4 208.5 L595.0 215.4 L595.6 214.7 L596.2 206.9 L596.8 195.4 L597.4 184.9 L598.0 179.8 L598.6 181.7 L599.2 189.2 L599.8 198.8 L600.4 205.9 L601.0 207.8 L601.6 204.0 L602.2 197.1 L602.8 191.3" fill="none" stroke="#77AC30" stroke-width="1.00" stroke-linejoin="round" stroke-dasharray="1.3 0.5" opacity="1.00"/><path d="M576.0 156.6 L576.6 160.9 L577.2 155.9 L577.8 146.5 L578.4 140.7 L579.0 143.0 L579.6 151.1 L580.2 157.6 L580.8 156.7 L581.4 148.7 L582.0 140.3 L582.6 138.9 L583.2 146.6 L583.8 158.5 L584.4 166.5 L585.0 165.9 L585.6 159.1 L586.2 153.3 L586.8 154.7 L587.4 163.0 L588.0 171.7 L588.6 173.7 L589.2 166.8 L589.8 156.2 L590.4 150.0 L591.0 152.9 L591.6 162.3 L592.2 170.9 L592.8 172.3 L593.4 166.7 L594.0 160.3 L594.6 160.3 L595.2 168.5 L595.8 180.0 L596.4 186.8 L597.0 184.3 L597.6 175.1 L598.2 166.9 L598.8 166.2 L599.4 173.0 L600.0 181.0 L600.6 183.2 L601.2 177.5 L601.8 168.7 L602.4 164.8 L603.0 170.1 L603.6 181.7 L604.2 191.9 L604.8 194.2 L605.4 188.5" fill="none" stroke="#77AC30" stroke-width="1.00" stroke-linejoin="round" stroke-dasharray="1.3 0.5" opacity="1.00"/><path d="M580.0 164.2 L580.6 157.4 L581.2 150.8 L581.8 146.6 L582.4 146.2 L583.0 149.7 L583.6 156.2 L584.2 163.8 L584.8 170.5 L585.4 174.4 L586.0 174.8 L586.6 172.0 L587.2 167.6 L587.8 163.5 L588.4 161.6 L589.0 162.9 L589.6 167.4 L590.2 174.0 L590.8 180.7 L591.4 185.4 L592.0 186.7 L592.6 184.1 L593.2 178.3 L593.8 171.2 L594.4 164.8 L595.0 161.1 L595.6 161.3 L596.2 165.1 L596.8 171.3 L597.4 178.0 L598.0 183.2 L598.6 185.3 L599.2 184.1 L599.8 180.4 L600.4 175.8 L601.0 172.4 L601.6 171.9 L602.2 174.9 L602.8 181.1 L603.4 188.7 L604.0 195.9 L604.6 200.4 L605.2 201.2 L605.8 198.0" fill="none" stroke="#77AC30" stroke-width="1.00" stroke-linejoin="round" stroke-dasharray="1.3 0.5" opacity="1.00"/><path d="M571.0 179.5 L571.6 167.6 L572.2 178.5 L572.8 202.2 L573.4 216.9 L574.0 210.7 L574.6 193.1 L575.2 183.6 L575.8 191.1 L576.4 205.0 L577.0 206.9 L577.6 191.7 L578.2 174.0 L578.8 172.8 L579.4 192.1 L580.0 215.0 L580.6 220.9 L581.2 205.4 L581.8 184.8 L582.4 178.6 L583.0 189.8 L583.6 203.2 L584.2 202.3 L584.8 187.7 L585.4 176.5 L586.0 183.8 L586.6 205.4 L587.2 221.4 L587.8 215.7" fill="none" stroke="#77AC30" stroke-width="1.00" stroke-linejoin="round" stroke-dasharray="1.3 0.5" opacity="1.00"/><path d="M583.0 147.4 L583.6 146.9 L584.2 143.2 L584.8 138.5 L585.4 135.6 L586.0 136.0 L586.6 139.4 L587.2 143.8 L587.8 146.6 L588.4 146.2 L589.0 142.6 L589.6 137.9 L590.2 134.7 L590.8 135.1 L591.4 139.3 L592.0 145.6 L592.6 151.2 L593.2 153.9 L593.8 152.7 L594.4 149.2 L595.0 145.6 L595.6 144.5 L596.2 146.7 L596.8 151.1 L597.4 155.5 L598.0 157.3 L598.6 155.4 L599.2 150.6 L599.8 145.4" fill="none" stroke="#77AC30" stroke-width="1.00" stroke-linejoin="round" stroke-dasharray="1.3 0.5" opacity="1.00"/><path d="M604.0 182.3 L604.6 183.4 L605.2 181.0 L605.8 177.0 L606.4 174.5 L607.0 175.3 L607.6 179.7 L608.2 185.7 L608.8 190.4 L609.4 191.3 L610.0 187.8 L610.6 181.7 L611.2 175.9 L611.8 173.3 L612.4 175.0 L613.0 179.9 L613.6 185.3 L614.2 188.4 L614.8 187.8 L615.4 184.4 L616.0 180.6 L616.6 179.1 L617.2 181.5 L617.8 187.1 L618.4 193.5 L619.0 197.6 L619.6 197.4 L620.2 193.1 L620.8 186.9 L621.4 181.9 L622.0 180.6 L622.6 183.3 L623.2 188.2 L623.8 192.7 L624.4 194.2 L625.0 192.1 L625.6 187.9 L626.2 184.4 L626.8 184.2 L627.4 188.0 L628.0 194.5 L628.6 200.8" fill="none" stroke="#77AC30" stroke-width="1.00" stroke-linejoin="round" stroke-dasharray="1.3 0.5" opacity="1.00"/><path d="M607.6 218.2 L609.5 212.0 L611.4 206.8 L613.7 212.9 L615.5 213.0 L617.5 206.8 L619.8 203.7 L621.3 208.0 L622.9 202.2 L625.0 207.0 L626.7 199.1 L628.2 215.9 L629.0 200.0" fill="none" stroke="#77AC30" stroke-width="1.00" stroke-linejoin="round" opacity="1.00"/><path d="M573.0 150.0 L573.5 190.0 L574.0 224.0" fill="none" stroke="#77AC30" stroke-width="1.00" stroke-linejoin="round" stroke-dasharray="1.3 0.5" opacity="1.00"/><path d="M576.0 150.0 L576.5 190.0 L577.0 224.0" fill="none" stroke="#77AC30" stroke-width="1.00" stroke-linejoin="round" stroke-dasharray="1.3 0.5" opacity="1.00"/><path d="M579.0 150.0 L579.5 190.0 L580.0 224.0" fill="none" stroke="#77AC30" stroke-width="1.00" stroke-linejoin="round" stroke-dasharray="1.3 0.5" opacity="1.00"/><path d="M582.0 150.0 L582.5 190.0 L583.0 224.0" fill="none" stroke="#77AC30" stroke-width="1.00" stroke-linejoin="round" stroke-dasharray="1.3 0.5" opacity="1.00"/><path d="M393.9 224.0 L394.1 172.0 L395.3 135.0 L396.2 125.2 L398.2 144.7 L399.9 172.0 L401.0 181.0 L402.6 188.9 L406.0 194.7 L409.5 197.0 L410.2 198.0 L411.0 224.1 L422.1 224.1 L422.5 200.0 L423.2 166.0 L423.6 150.0 L424.9 118.4 L426.1 140.0 L427.7 184.5 L430.1 146.0 L432.5 116.8 L433.8 124.0 L434.9 108.0 L436.8 57.6 L438.1 108.0 L439.7 188.0 L440.5 224.1 L442.0 224.1 L443.0 190.0 L444.5 186.0 L446.1 184.0 L446.9 186.0 L448.5 162.0 L450.1 140.0 L451.8 158.8 L453.4 108.0 L455.8 42.0 L457.4 42.0 L459.0 108.0 L460.6 138.5 L463.0 128.9 L465.4 145.0 L467.0 127.3 L468.6 150.0 L470.7 199.3 L472.6 146.0 L475.0 76.4 L477.4 86.0 L479.9 74.0 L482.3 102.0 L483.5 85.0 L484.7 67.7 L485.7 90.0 L487.1 108.0 L488.7 150.0 L489.5 159.7 L491.9 124.0 L493.5 120.8 L495.5 108.0 L496.7 99.7 L497.5 110.0 L498.3 127.3 L500.0 95.0 L502.4 51.7 L504.8 88.9 L507.2 100.1 L508.8 106.5 L510.4 96.9 L512.0 88.5 L513.7 110.0 L515.3 130.1 L516.9 110.0 L518.5 92.1 L520.0 95.0 L521.7 86.5 L524.1 94.5 L525.7 77.6 L527.3 63.7 L529.7 88.9 L530.5 102.5 L532.1 97.7 L533.7 98.5 L535.3 92.1 L537.0 99.0 L538.5 107.3 L541.0 92.1 L542.6 83.3 L545.0 82.5 L546.6 85.7 L548.2 80.8 L549.8 77.6 L551.4 85.7 L553.0 96.9 L555.4 92.1 L557.4 92.5 L559.4 90.5 L561.0 94.5 L562.6 84.1 L564.2 80.0 L566.6 83.3 L569.1 84.1 L571.5 87.3 L573.1 92.1 L575.5 89.7 L577.2 87.7 L579.0 87.3 L580.6 83.4 L582.2 80.9 L584.2 83.3 L586.2 84.9 L588.2 86.2 L590.3 88.9 L592.3 88.2 L594.3 85.7 L596.3 84.8 L598.3 82.5 L600.7 84.6 L603.1 85.7 L604.7 85.8 L606.3 86.0 L608.7 84.5 L611.1 81.7 L612.7 82.4 L614.3 84.1 L616.3 84.7 L618.4 84.9 L620.4 83.4 L622.4 82.5 L624.4 83.3 L626.4 84.1 L628.4 84.2 L630.4 82.5 L630.6 82.2 L630.9 83.0 L631.2 224.1 L634.7 224.1" fill="none" stroke="#0072BD" stroke-width="1.70" stroke-linejoin="round" stroke-linecap="round"/></g><rect x="575.35" y="11.2" width="97.2" height="29.9" fill="#fff" stroke="#6e6e6e" stroke-width="1"/><path d="M578.35 19.4 H604.95" stroke="#77AC30" stroke-width="0.85" stroke-dasharray="1.1 0.5"/><path d="M578.75 33.5 H604.75" stroke="#0072BD" stroke-width="1.5" stroke-linecap="round"/><text x="607.25" y="23.9">Experiments</text><text x="607.25" y="37.5">Simulation</text><text x="393.90" y="240.70" text-anchor="middle">0</text><text x="434.74" y="240.70" text-anchor="middle">2</text><text x="475.57" y="240.70" text-anchor="middle">4</text><text x="516.41" y="240.70" text-anchor="middle">6</text><text x="557.24" y="240.70" text-anchor="middle">8</text><text x="598.08" y="240.70" text-anchor="middle">10</text><text x="638.91" y="240.70" text-anchor="middle">12</text><text x="679.75" y="240.70" text-anchor="middle">14</text><text x="389.30" y="228.60" text-anchor="end">0</text><text x="389.30" y="173.70" text-anchor="end">1000</text><text x="389.30" y="118.80" text-anchor="end">2000</text><text x="389.30" y="63.90" text-anchor="end">3000</text><text x="389.30" y="9.00" text-anchor="end">4000</text><text x="537.83" y="258.70" text-anchor="middle">Displacement [mm]</text><text transform="translate(356.90 114.50) rotate(-90)" text-anchor="middle">Force [N]</text><text x="404.70" y="23.70">T, 4.55 kg</text>
</svg></body></html>
